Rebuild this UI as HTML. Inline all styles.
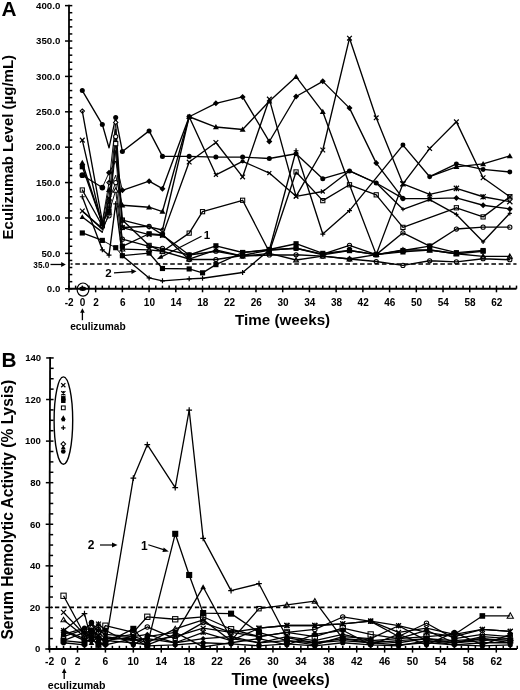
<!DOCTYPE html>
<html><head><meta charset="utf-8"><style>
html,body{margin:0;padding:0;background:#fff;}
svg{display:block;filter:grayscale(1) blur(0.3px);}
text{font-family:"Liberation Sans",sans-serif;font-weight:bold;fill:#000;}
</style></head><body>
<svg width="520" height="690" viewBox="0 0 520 690">
<rect width="520" height="690" fill="#fff"/>
<line x1="69.0" y1="4.73" x2="69.0" y2="289.65" stroke="#000" stroke-width="1.8"/>
<line x1="68.1" y1="288.75" x2="516.5" y2="288.75" stroke="#000" stroke-width="1.8"/>
<line x1="65" y1="288.75" x2="72.3" y2="288.75" stroke="#000" stroke-width="1.5"/>
<line x1="69.0" y1="281.67" x2="72.3" y2="281.67" stroke="#000" stroke-width="1.5"/>
<line x1="69.0" y1="274.59" x2="72.3" y2="274.59" stroke="#000" stroke-width="1.5"/>
<line x1="69.0" y1="267.52" x2="72.3" y2="267.52" stroke="#000" stroke-width="1.5"/>
<line x1="69.0" y1="260.44" x2="72.3" y2="260.44" stroke="#000" stroke-width="1.5"/>
<line x1="65" y1="253.36" x2="72.3" y2="253.36" stroke="#000" stroke-width="1.5"/>
<line x1="69.0" y1="246.28" x2="72.3" y2="246.28" stroke="#000" stroke-width="1.5"/>
<line x1="69.0" y1="239.2" x2="72.3" y2="239.2" stroke="#000" stroke-width="1.5"/>
<line x1="69.0" y1="232.13" x2="72.3" y2="232.13" stroke="#000" stroke-width="1.5"/>
<line x1="69.0" y1="225.05" x2="72.3" y2="225.05" stroke="#000" stroke-width="1.5"/>
<line x1="65" y1="217.97" x2="72.3" y2="217.97" stroke="#000" stroke-width="1.5"/>
<line x1="69.0" y1="210.89" x2="72.3" y2="210.89" stroke="#000" stroke-width="1.5"/>
<line x1="69.0" y1="203.81" x2="72.3" y2="203.81" stroke="#000" stroke-width="1.5"/>
<line x1="69.0" y1="196.74" x2="72.3" y2="196.74" stroke="#000" stroke-width="1.5"/>
<line x1="69.0" y1="189.66" x2="72.3" y2="189.66" stroke="#000" stroke-width="1.5"/>
<line x1="65" y1="182.58" x2="72.3" y2="182.58" stroke="#000" stroke-width="1.5"/>
<line x1="69.0" y1="175.5" x2="72.3" y2="175.5" stroke="#000" stroke-width="1.5"/>
<line x1="69.0" y1="168.42" x2="72.3" y2="168.42" stroke="#000" stroke-width="1.5"/>
<line x1="69.0" y1="161.35" x2="72.3" y2="161.35" stroke="#000" stroke-width="1.5"/>
<line x1="69.0" y1="154.27" x2="72.3" y2="154.27" stroke="#000" stroke-width="1.5"/>
<line x1="65" y1="147.19" x2="72.3" y2="147.19" stroke="#000" stroke-width="1.5"/>
<line x1="69.0" y1="140.11" x2="72.3" y2="140.11" stroke="#000" stroke-width="1.5"/>
<line x1="69.0" y1="133.03" x2="72.3" y2="133.03" stroke="#000" stroke-width="1.5"/>
<line x1="69.0" y1="125.96" x2="72.3" y2="125.96" stroke="#000" stroke-width="1.5"/>
<line x1="69.0" y1="118.88" x2="72.3" y2="118.88" stroke="#000" stroke-width="1.5"/>
<line x1="65" y1="111.8" x2="72.3" y2="111.8" stroke="#000" stroke-width="1.5"/>
<line x1="69.0" y1="104.72" x2="72.3" y2="104.72" stroke="#000" stroke-width="1.5"/>
<line x1="69.0" y1="97.64" x2="72.3" y2="97.64" stroke="#000" stroke-width="1.5"/>
<line x1="69.0" y1="90.57" x2="72.3" y2="90.57" stroke="#000" stroke-width="1.5"/>
<line x1="69.0" y1="83.49" x2="72.3" y2="83.49" stroke="#000" stroke-width="1.5"/>
<line x1="65" y1="76.41" x2="72.3" y2="76.41" stroke="#000" stroke-width="1.5"/>
<line x1="69.0" y1="69.33" x2="72.3" y2="69.33" stroke="#000" stroke-width="1.5"/>
<line x1="69.0" y1="62.25" x2="72.3" y2="62.25" stroke="#000" stroke-width="1.5"/>
<line x1="69.0" y1="55.18" x2="72.3" y2="55.18" stroke="#000" stroke-width="1.5"/>
<line x1="69.0" y1="48.1" x2="72.3" y2="48.1" stroke="#000" stroke-width="1.5"/>
<line x1="65" y1="41.02" x2="72.3" y2="41.02" stroke="#000" stroke-width="1.5"/>
<line x1="69.0" y1="33.94" x2="72.3" y2="33.94" stroke="#000" stroke-width="1.5"/>
<line x1="69.0" y1="26.86" x2="72.3" y2="26.86" stroke="#000" stroke-width="1.5"/>
<line x1="69.0" y1="19.79" x2="72.3" y2="19.79" stroke="#000" stroke-width="1.5"/>
<line x1="69.0" y1="12.71" x2="72.3" y2="12.71" stroke="#000" stroke-width="1.5"/>
<line x1="65" y1="5.63" x2="72.3" y2="5.63" stroke="#000" stroke-width="1.5"/>
<line x1="68.94" y1="285.6" x2="68.94" y2="292.3" stroke="#000" stroke-width="1.5"/>
<line x1="75.62" y1="285.6" x2="75.62" y2="288.75" stroke="#000" stroke-width="1.5"/>
<line x1="82.3" y1="285.6" x2="82.3" y2="288.75" stroke="#000" stroke-width="1.5"/>
<line x1="88.98" y1="285.6" x2="88.98" y2="288.75" stroke="#000" stroke-width="1.5"/>
<line x1="95.66" y1="285.6" x2="95.66" y2="292.3" stroke="#000" stroke-width="1.5"/>
<line x1="102.34" y1="285.6" x2="102.34" y2="288.75" stroke="#000" stroke-width="1.5"/>
<line x1="109.02" y1="285.6" x2="109.02" y2="288.75" stroke="#000" stroke-width="1.5"/>
<line x1="115.7" y1="285.6" x2="115.7" y2="288.75" stroke="#000" stroke-width="1.5"/>
<line x1="122.38" y1="285.6" x2="122.38" y2="292.3" stroke="#000" stroke-width="1.5"/>
<line x1="129.06" y1="285.6" x2="129.06" y2="288.75" stroke="#000" stroke-width="1.5"/>
<line x1="135.74" y1="285.6" x2="135.74" y2="288.75" stroke="#000" stroke-width="1.5"/>
<line x1="142.42" y1="285.6" x2="142.42" y2="288.75" stroke="#000" stroke-width="1.5"/>
<line x1="149.1" y1="285.6" x2="149.1" y2="292.3" stroke="#000" stroke-width="1.5"/>
<line x1="155.78" y1="285.6" x2="155.78" y2="288.75" stroke="#000" stroke-width="1.5"/>
<line x1="162.46" y1="285.6" x2="162.46" y2="288.75" stroke="#000" stroke-width="1.5"/>
<line x1="169.14" y1="285.6" x2="169.14" y2="288.75" stroke="#000" stroke-width="1.5"/>
<line x1="175.82" y1="285.6" x2="175.82" y2="292.3" stroke="#000" stroke-width="1.5"/>
<line x1="182.5" y1="285.6" x2="182.5" y2="288.75" stroke="#000" stroke-width="1.5"/>
<line x1="189.18" y1="285.6" x2="189.18" y2="288.75" stroke="#000" stroke-width="1.5"/>
<line x1="195.86" y1="285.6" x2="195.86" y2="288.75" stroke="#000" stroke-width="1.5"/>
<line x1="202.54" y1="285.6" x2="202.54" y2="292.3" stroke="#000" stroke-width="1.5"/>
<line x1="209.22" y1="285.6" x2="209.22" y2="288.75" stroke="#000" stroke-width="1.5"/>
<line x1="215.9" y1="285.6" x2="215.9" y2="288.75" stroke="#000" stroke-width="1.5"/>
<line x1="222.58" y1="285.6" x2="222.58" y2="288.75" stroke="#000" stroke-width="1.5"/>
<line x1="229.26" y1="285.6" x2="229.26" y2="292.3" stroke="#000" stroke-width="1.5"/>
<line x1="235.94" y1="285.6" x2="235.94" y2="288.75" stroke="#000" stroke-width="1.5"/>
<line x1="242.62" y1="285.6" x2="242.62" y2="288.75" stroke="#000" stroke-width="1.5"/>
<line x1="249.3" y1="285.6" x2="249.3" y2="288.75" stroke="#000" stroke-width="1.5"/>
<line x1="255.98" y1="285.6" x2="255.98" y2="292.3" stroke="#000" stroke-width="1.5"/>
<line x1="262.66" y1="285.6" x2="262.66" y2="288.75" stroke="#000" stroke-width="1.5"/>
<line x1="269.34" y1="285.6" x2="269.34" y2="288.75" stroke="#000" stroke-width="1.5"/>
<line x1="276.02" y1="285.6" x2="276.02" y2="288.75" stroke="#000" stroke-width="1.5"/>
<line x1="282.7" y1="285.6" x2="282.7" y2="292.3" stroke="#000" stroke-width="1.5"/>
<line x1="289.38" y1="285.6" x2="289.38" y2="288.75" stroke="#000" stroke-width="1.5"/>
<line x1="296.06" y1="285.6" x2="296.06" y2="288.75" stroke="#000" stroke-width="1.5"/>
<line x1="302.74" y1="285.6" x2="302.74" y2="288.75" stroke="#000" stroke-width="1.5"/>
<line x1="309.42" y1="285.6" x2="309.42" y2="292.3" stroke="#000" stroke-width="1.5"/>
<line x1="316.1" y1="285.6" x2="316.1" y2="288.75" stroke="#000" stroke-width="1.5"/>
<line x1="322.78" y1="285.6" x2="322.78" y2="288.75" stroke="#000" stroke-width="1.5"/>
<line x1="329.46" y1="285.6" x2="329.46" y2="288.75" stroke="#000" stroke-width="1.5"/>
<line x1="336.14" y1="285.6" x2="336.14" y2="292.3" stroke="#000" stroke-width="1.5"/>
<line x1="342.82" y1="285.6" x2="342.82" y2="288.75" stroke="#000" stroke-width="1.5"/>
<line x1="349.5" y1="285.6" x2="349.5" y2="288.75" stroke="#000" stroke-width="1.5"/>
<line x1="356.18" y1="285.6" x2="356.18" y2="288.75" stroke="#000" stroke-width="1.5"/>
<line x1="362.86" y1="285.6" x2="362.86" y2="292.3" stroke="#000" stroke-width="1.5"/>
<line x1="369.54" y1="285.6" x2="369.54" y2="288.75" stroke="#000" stroke-width="1.5"/>
<line x1="376.22" y1="285.6" x2="376.22" y2="288.75" stroke="#000" stroke-width="1.5"/>
<line x1="382.9" y1="285.6" x2="382.9" y2="288.75" stroke="#000" stroke-width="1.5"/>
<line x1="389.58" y1="285.6" x2="389.58" y2="292.3" stroke="#000" stroke-width="1.5"/>
<line x1="396.26" y1="285.6" x2="396.26" y2="288.75" stroke="#000" stroke-width="1.5"/>
<line x1="402.94" y1="285.6" x2="402.94" y2="288.75" stroke="#000" stroke-width="1.5"/>
<line x1="409.62" y1="285.6" x2="409.62" y2="288.75" stroke="#000" stroke-width="1.5"/>
<line x1="416.3" y1="285.6" x2="416.3" y2="292.3" stroke="#000" stroke-width="1.5"/>
<line x1="422.98" y1="285.6" x2="422.98" y2="288.75" stroke="#000" stroke-width="1.5"/>
<line x1="429.66" y1="285.6" x2="429.66" y2="288.75" stroke="#000" stroke-width="1.5"/>
<line x1="436.34" y1="285.6" x2="436.34" y2="288.75" stroke="#000" stroke-width="1.5"/>
<line x1="443.02" y1="285.6" x2="443.02" y2="292.3" stroke="#000" stroke-width="1.5"/>
<line x1="449.7" y1="285.6" x2="449.7" y2="288.75" stroke="#000" stroke-width="1.5"/>
<line x1="456.38" y1="285.6" x2="456.38" y2="288.75" stroke="#000" stroke-width="1.5"/>
<line x1="463.06" y1="285.6" x2="463.06" y2="288.75" stroke="#000" stroke-width="1.5"/>
<line x1="469.74" y1="285.6" x2="469.74" y2="292.3" stroke="#000" stroke-width="1.5"/>
<line x1="476.42" y1="285.6" x2="476.42" y2="288.75" stroke="#000" stroke-width="1.5"/>
<line x1="483.1" y1="285.6" x2="483.1" y2="288.75" stroke="#000" stroke-width="1.5"/>
<line x1="489.78" y1="285.6" x2="489.78" y2="288.75" stroke="#000" stroke-width="1.5"/>
<line x1="496.46" y1="285.6" x2="496.46" y2="292.3" stroke="#000" stroke-width="1.5"/>
<line x1="503.14" y1="285.6" x2="503.14" y2="288.75" stroke="#000" stroke-width="1.5"/>
<line x1="509.82" y1="285.6" x2="509.82" y2="288.75" stroke="#000" stroke-width="1.5"/>
<line x1="516.5" y1="285.6" x2="516.5" y2="288.75" stroke="#000" stroke-width="1.5"/>
<text x="60.3" y="292.05" font-size="9.7" text-anchor="end" >0.0</text>
<text x="60.3" y="256.66" font-size="9.7" text-anchor="end" >50.0</text>
<text x="60.3" y="221.27" font-size="9.7" text-anchor="end" >100.0</text>
<text x="60.3" y="185.88" font-size="9.7" text-anchor="end" >150.0</text>
<text x="60.3" y="150.49" font-size="9.7" text-anchor="end" >200.0</text>
<text x="60.3" y="115.1" font-size="9.7" text-anchor="end" >250.0</text>
<text x="60.3" y="79.71" font-size="9.7" text-anchor="end" >300.0</text>
<text x="60.3" y="44.32" font-size="9.7" text-anchor="end" >350.0</text>
<text x="60.3" y="8.93" font-size="9.7" text-anchor="end" >400.0</text>
<text x="69.24" y="306.4" font-size="10" text-anchor="middle" >-2</text>
<text x="82.6" y="306.4" font-size="10" text-anchor="middle" >0</text>
<text x="95.96" y="306.4" font-size="10" text-anchor="middle" >2</text>
<text x="122.68" y="306.4" font-size="10" text-anchor="middle" >6</text>
<text x="149.4" y="306.4" font-size="10" text-anchor="middle" >10</text>
<text x="176.12" y="306.4" font-size="10" text-anchor="middle" >14</text>
<text x="202.84" y="306.4" font-size="10" text-anchor="middle" >18</text>
<text x="229.56" y="306.4" font-size="10" text-anchor="middle" >22</text>
<text x="256.28" y="306.4" font-size="10" text-anchor="middle" >26</text>
<text x="283" y="306.4" font-size="10" text-anchor="middle" >30</text>
<text x="309.72" y="306.4" font-size="10" text-anchor="middle" >34</text>
<text x="336.44" y="306.4" font-size="10" text-anchor="middle" >38</text>
<text x="363.16" y="306.4" font-size="10" text-anchor="middle" >42</text>
<text x="389.88" y="306.4" font-size="10" text-anchor="middle" >46</text>
<text x="416.6" y="306.4" font-size="10" text-anchor="middle" >50</text>
<text x="443.32" y="306.4" font-size="10" text-anchor="middle" >54</text>
<text x="470.04" y="306.4" font-size="10" text-anchor="middle" >58</text>
<text x="496.76" y="306.4" font-size="10" text-anchor="middle" >62</text>
<line x1="70.6" y1="263.98" x2="516.5" y2="263.98" stroke="#000" stroke-width="1.6" stroke-dasharray="4.6 2.7" stroke-dashoffset="2.6"/>
<text x="49.3" y="268.18" font-size="8.2" text-anchor="end" >35.0</text>
<line x1="50.5" y1="264.48" x2="62" y2="264.48" stroke="#000" stroke-width="1.3"/>
<path d="M65.8 264.48 L61.2 261.98 L61.2 266.98Z" fill="#000"/>
<line x1="82.4" y1="312" x2="82.4" y2="320.2" stroke="#000" stroke-width="1.3"/>
<path d="M82.4 308.2 L80.1 312.8 L84.7 312.8Z" fill="#000"/>
<text x="97.9" y="329.5" font-size="10.2" text-anchor="middle" >eculizumab</text>
<text x="1.6" y="15.9" font-size="20.8" text-anchor="start" >A</text>
<text x="282.6" y="325" font-size="15.2" text-anchor="middle" >Time (weeks)</text>
<text x="0" y="0" font-size="15" text-anchor="middle" transform="translate(13.2 147.2) rotate(-90)">Eculizumab Level (µg/mL)</text>
<ellipse cx="83" cy="289.6" rx="5.9" ry="6.6" fill="none" stroke="#000" stroke-width="1.2"/>
<ellipse cx="82.7" cy="288.8" rx="3.4" ry="2.2" fill="#000"/>
<line x1="50.1" y1="357.04" x2="49.2" y2="649.9" stroke="#000" stroke-width="1.8"/>
<line x1="48.3" y1="649.0" x2="517" y2="649.0" stroke="#000" stroke-width="1.8"/>
<line x1="45.3" y1="649" x2="52.8" y2="649" stroke="#000" stroke-width="1.5"/>
<line x1="49.23" y1="638.61" x2="52.83" y2="638.61" stroke="#000" stroke-width="1.5"/>
<line x1="49.26" y1="628.21" x2="52.86" y2="628.21" stroke="#000" stroke-width="1.5"/>
<line x1="49.3" y1="617.82" x2="52.9" y2="617.82" stroke="#000" stroke-width="1.5"/>
<line x1="45.43" y1="607.42" x2="52.93" y2="607.42" stroke="#000" stroke-width="1.5"/>
<line x1="49.36" y1="597.02" x2="52.96" y2="597.02" stroke="#000" stroke-width="1.5"/>
<line x1="49.39" y1="586.63" x2="52.99" y2="586.63" stroke="#000" stroke-width="1.5"/>
<line x1="49.43" y1="576.24" x2="53.03" y2="576.24" stroke="#000" stroke-width="1.5"/>
<line x1="45.56" y1="565.84" x2="53.06" y2="565.84" stroke="#000" stroke-width="1.5"/>
<line x1="49.49" y1="555.44" x2="53.09" y2="555.44" stroke="#000" stroke-width="1.5"/>
<line x1="49.52" y1="545.05" x2="53.12" y2="545.05" stroke="#000" stroke-width="1.5"/>
<line x1="49.55" y1="534.65" x2="53.15" y2="534.65" stroke="#000" stroke-width="1.5"/>
<line x1="45.69" y1="524.26" x2="53.19" y2="524.26" stroke="#000" stroke-width="1.5"/>
<line x1="49.62" y1="513.87" x2="53.22" y2="513.87" stroke="#000" stroke-width="1.5"/>
<line x1="49.65" y1="503.47" x2="53.25" y2="503.47" stroke="#000" stroke-width="1.5"/>
<line x1="49.68" y1="493.07" x2="53.28" y2="493.07" stroke="#000" stroke-width="1.5"/>
<line x1="45.81" y1="482.68" x2="53.31" y2="482.68" stroke="#000" stroke-width="1.5"/>
<line x1="49.75" y1="472.28" x2="53.35" y2="472.28" stroke="#000" stroke-width="1.5"/>
<line x1="49.78" y1="461.89" x2="53.38" y2="461.89" stroke="#000" stroke-width="1.5"/>
<line x1="49.81" y1="451.5" x2="53.41" y2="451.5" stroke="#000" stroke-width="1.5"/>
<line x1="45.94" y1="441.1" x2="53.44" y2="441.1" stroke="#000" stroke-width="1.5"/>
<line x1="49.88" y1="430.7" x2="53.48" y2="430.7" stroke="#000" stroke-width="1.5"/>
<line x1="49.91" y1="420.31" x2="53.51" y2="420.31" stroke="#000" stroke-width="1.5"/>
<line x1="49.94" y1="409.91" x2="53.54" y2="409.91" stroke="#000" stroke-width="1.5"/>
<line x1="46.07" y1="399.52" x2="53.57" y2="399.52" stroke="#000" stroke-width="1.5"/>
<line x1="50" y1="389.12" x2="53.6" y2="389.12" stroke="#000" stroke-width="1.5"/>
<line x1="50.04" y1="378.73" x2="53.64" y2="378.73" stroke="#000" stroke-width="1.5"/>
<line x1="50.07" y1="368.33" x2="53.67" y2="368.33" stroke="#000" stroke-width="1.5"/>
<line x1="46.2" y1="357.94" x2="53.7" y2="357.94" stroke="#000" stroke-width="1.5"/>
<line x1="49.58" y1="645.8" x2="49.58" y2="652.6" stroke="#000" stroke-width="1.5"/>
<line x1="56.56" y1="645.8" x2="56.56" y2="649.0" stroke="#000" stroke-width="1.5"/>
<line x1="63.54" y1="645.8" x2="63.54" y2="649.0" stroke="#000" stroke-width="1.5"/>
<line x1="70.52" y1="645.8" x2="70.52" y2="649.0" stroke="#000" stroke-width="1.5"/>
<line x1="77.5" y1="645.8" x2="77.5" y2="652.6" stroke="#000" stroke-width="1.5"/>
<line x1="84.48" y1="645.8" x2="84.48" y2="649.0" stroke="#000" stroke-width="1.5"/>
<line x1="91.46" y1="645.8" x2="91.46" y2="649.0" stroke="#000" stroke-width="1.5"/>
<line x1="98.44" y1="645.8" x2="98.44" y2="649.0" stroke="#000" stroke-width="1.5"/>
<line x1="105.42" y1="645.8" x2="105.42" y2="652.6" stroke="#000" stroke-width="1.5"/>
<line x1="112.4" y1="645.8" x2="112.4" y2="649.0" stroke="#000" stroke-width="1.5"/>
<line x1="119.38" y1="645.8" x2="119.38" y2="649.0" stroke="#000" stroke-width="1.5"/>
<line x1="126.36" y1="645.8" x2="126.36" y2="649.0" stroke="#000" stroke-width="1.5"/>
<line x1="133.34" y1="645.8" x2="133.34" y2="652.6" stroke="#000" stroke-width="1.5"/>
<line x1="140.32" y1="645.8" x2="140.32" y2="649.0" stroke="#000" stroke-width="1.5"/>
<line x1="147.3" y1="645.8" x2="147.3" y2="649.0" stroke="#000" stroke-width="1.5"/>
<line x1="154.28" y1="645.8" x2="154.28" y2="649.0" stroke="#000" stroke-width="1.5"/>
<line x1="161.26" y1="645.8" x2="161.26" y2="652.6" stroke="#000" stroke-width="1.5"/>
<line x1="168.24" y1="645.8" x2="168.24" y2="649.0" stroke="#000" stroke-width="1.5"/>
<line x1="175.22" y1="645.8" x2="175.22" y2="649.0" stroke="#000" stroke-width="1.5"/>
<line x1="182.2" y1="645.8" x2="182.2" y2="649.0" stroke="#000" stroke-width="1.5"/>
<line x1="189.18" y1="645.8" x2="189.18" y2="652.6" stroke="#000" stroke-width="1.5"/>
<line x1="196.16" y1="645.8" x2="196.16" y2="649.0" stroke="#000" stroke-width="1.5"/>
<line x1="203.14" y1="645.8" x2="203.14" y2="649.0" stroke="#000" stroke-width="1.5"/>
<line x1="210.12" y1="645.8" x2="210.12" y2="649.0" stroke="#000" stroke-width="1.5"/>
<line x1="217.1" y1="645.8" x2="217.1" y2="652.6" stroke="#000" stroke-width="1.5"/>
<line x1="224.08" y1="645.8" x2="224.08" y2="649.0" stroke="#000" stroke-width="1.5"/>
<line x1="231.06" y1="645.8" x2="231.06" y2="649.0" stroke="#000" stroke-width="1.5"/>
<line x1="238.04" y1="645.8" x2="238.04" y2="649.0" stroke="#000" stroke-width="1.5"/>
<line x1="245.02" y1="645.8" x2="245.02" y2="652.6" stroke="#000" stroke-width="1.5"/>
<line x1="252" y1="645.8" x2="252" y2="649.0" stroke="#000" stroke-width="1.5"/>
<line x1="258.98" y1="645.8" x2="258.98" y2="649.0" stroke="#000" stroke-width="1.5"/>
<line x1="265.96" y1="645.8" x2="265.96" y2="649.0" stroke="#000" stroke-width="1.5"/>
<line x1="272.94" y1="645.8" x2="272.94" y2="652.6" stroke="#000" stroke-width="1.5"/>
<line x1="279.92" y1="645.8" x2="279.92" y2="649.0" stroke="#000" stroke-width="1.5"/>
<line x1="286.9" y1="645.8" x2="286.9" y2="649.0" stroke="#000" stroke-width="1.5"/>
<line x1="293.88" y1="645.8" x2="293.88" y2="649.0" stroke="#000" stroke-width="1.5"/>
<line x1="300.86" y1="645.8" x2="300.86" y2="652.6" stroke="#000" stroke-width="1.5"/>
<line x1="307.84" y1="645.8" x2="307.84" y2="649.0" stroke="#000" stroke-width="1.5"/>
<line x1="314.82" y1="645.8" x2="314.82" y2="649.0" stroke="#000" stroke-width="1.5"/>
<line x1="321.8" y1="645.8" x2="321.8" y2="649.0" stroke="#000" stroke-width="1.5"/>
<line x1="328.78" y1="645.8" x2="328.78" y2="652.6" stroke="#000" stroke-width="1.5"/>
<line x1="335.76" y1="645.8" x2="335.76" y2="649.0" stroke="#000" stroke-width="1.5"/>
<line x1="342.74" y1="645.8" x2="342.74" y2="649.0" stroke="#000" stroke-width="1.5"/>
<line x1="349.72" y1="645.8" x2="349.72" y2="649.0" stroke="#000" stroke-width="1.5"/>
<line x1="356.7" y1="645.8" x2="356.7" y2="652.6" stroke="#000" stroke-width="1.5"/>
<line x1="363.68" y1="645.8" x2="363.68" y2="649.0" stroke="#000" stroke-width="1.5"/>
<line x1="370.66" y1="645.8" x2="370.66" y2="649.0" stroke="#000" stroke-width="1.5"/>
<line x1="377.64" y1="645.8" x2="377.64" y2="649.0" stroke="#000" stroke-width="1.5"/>
<line x1="384.62" y1="645.8" x2="384.62" y2="652.6" stroke="#000" stroke-width="1.5"/>
<line x1="391.6" y1="645.8" x2="391.6" y2="649.0" stroke="#000" stroke-width="1.5"/>
<line x1="398.58" y1="645.8" x2="398.58" y2="649.0" stroke="#000" stroke-width="1.5"/>
<line x1="405.56" y1="645.8" x2="405.56" y2="649.0" stroke="#000" stroke-width="1.5"/>
<line x1="412.54" y1="645.8" x2="412.54" y2="652.6" stroke="#000" stroke-width="1.5"/>
<line x1="419.52" y1="645.8" x2="419.52" y2="649.0" stroke="#000" stroke-width="1.5"/>
<line x1="426.5" y1="645.8" x2="426.5" y2="649.0" stroke="#000" stroke-width="1.5"/>
<line x1="433.48" y1="645.8" x2="433.48" y2="649.0" stroke="#000" stroke-width="1.5"/>
<line x1="440.46" y1="645.8" x2="440.46" y2="652.6" stroke="#000" stroke-width="1.5"/>
<line x1="447.44" y1="645.8" x2="447.44" y2="649.0" stroke="#000" stroke-width="1.5"/>
<line x1="454.42" y1="645.8" x2="454.42" y2="649.0" stroke="#000" stroke-width="1.5"/>
<line x1="461.4" y1="645.8" x2="461.4" y2="649.0" stroke="#000" stroke-width="1.5"/>
<line x1="468.38" y1="645.8" x2="468.38" y2="652.6" stroke="#000" stroke-width="1.5"/>
<line x1="475.36" y1="645.8" x2="475.36" y2="649.0" stroke="#000" stroke-width="1.5"/>
<line x1="482.34" y1="645.8" x2="482.34" y2="649.0" stroke="#000" stroke-width="1.5"/>
<line x1="489.32" y1="645.8" x2="489.32" y2="649.0" stroke="#000" stroke-width="1.5"/>
<line x1="496.3" y1="645.8" x2="496.3" y2="652.6" stroke="#000" stroke-width="1.5"/>
<line x1="503.28" y1="645.8" x2="503.28" y2="649.0" stroke="#000" stroke-width="1.5"/>
<line x1="510.26" y1="645.8" x2="510.26" y2="649.0" stroke="#000" stroke-width="1.5"/>
<line x1="517.24" y1="645.8" x2="517.24" y2="649.0" stroke="#000" stroke-width="1.5"/>
<text x="40.3" y="652.35" font-size="9.6" text-anchor="end" >0</text>
<text x="40.43" y="610.77" font-size="9.6" text-anchor="end" >20</text>
<text x="40.56" y="569.19" font-size="9.6" text-anchor="end" >40</text>
<text x="40.69" y="527.61" font-size="9.6" text-anchor="end" >60</text>
<text x="40.81" y="486.03" font-size="9.6" text-anchor="end" >80</text>
<text x="40.94" y="444.45" font-size="9.6" text-anchor="end" >100</text>
<text x="41.07" y="402.87" font-size="9.6" text-anchor="end" >120</text>
<text x="41.2" y="361.29" font-size="9.6" text-anchor="end" >140</text>
<text x="49.58" y="665.4" font-size="10.3" text-anchor="middle" >-2</text>
<text x="63.54" y="665.4" font-size="10.3" text-anchor="middle" >0</text>
<text x="77.5" y="665.4" font-size="10.3" text-anchor="middle" >2</text>
<text x="105.42" y="665.4" font-size="10.3" text-anchor="middle" >6</text>
<text x="133.34" y="665.4" font-size="10.3" text-anchor="middle" >10</text>
<text x="161.26" y="665.4" font-size="10.3" text-anchor="middle" >14</text>
<text x="189.18" y="665.4" font-size="10.3" text-anchor="middle" >18</text>
<text x="217.1" y="665.4" font-size="10.3" text-anchor="middle" >22</text>
<text x="245.02" y="665.4" font-size="10.3" text-anchor="middle" >26</text>
<text x="272.94" y="665.4" font-size="10.3" text-anchor="middle" >30</text>
<text x="300.86" y="665.4" font-size="10.3" text-anchor="middle" >34</text>
<text x="328.78" y="665.4" font-size="10.3" text-anchor="middle" >38</text>
<text x="356.7" y="665.4" font-size="10.3" text-anchor="middle" >42</text>
<text x="384.62" y="665.4" font-size="10.3" text-anchor="middle" >46</text>
<text x="412.54" y="665.4" font-size="10.3" text-anchor="middle" >50</text>
<text x="440.46" y="665.4" font-size="10.3" text-anchor="middle" >54</text>
<text x="468.38" y="665.4" font-size="10.3" text-anchor="middle" >58</text>
<text x="496.3" y="665.4" font-size="10.3" text-anchor="middle" >62</text>
<line x1="51" y1="607.42" x2="501.5" y2="607.42" stroke="#000" stroke-width="1.6" stroke-dasharray="4.4 2.967" stroke-dashoffset="3.47"/>
<line x1="64.2" y1="672" x2="64.2" y2="679" stroke="#000" stroke-width="1.3"/>
<path d="M64.2 668.3 L61.9 672.9 L66.5 672.9Z" fill="#000"/>
<text x="76.6" y="688.6" font-size="10.6" text-anchor="middle" >eculizumab</text>
<text x="1.4" y="367.2" font-size="20.8" text-anchor="start" >B</text>
<text x="280.6" y="684.6" font-size="15.7" text-anchor="middle" >Time (weeks)</text>
<text x="0" y="0" font-size="15.6" text-anchor="middle" transform="translate(13.0 509.7) rotate(-90)">Serum Hemolytic Activity (% Lysis)</text>
<ellipse cx="63.4" cy="420.6" rx="9.3" ry="43.7" fill="none" stroke="#000" stroke-width="1.4"/>
<path d="M429.66 176.71L456.38 166.87M456.38 166.87L483.1 163.89M483.1 163.89L509.82 155.9" fill="none" stroke="#000" stroke-width="1.35" stroke-linecap="round"/>
<path d="M82.3 90.57 L102.34 124.54 L109.02 147.9 L115.7 117.46 L122.38 151.44 L149.1 130.91 L162.46 156.39 L189.18 156.39 L215.9 157.1 L242.62 157.1 L269.34 158.51 L296.06 153.77 L322.78 178.69 L349.5 170.97 L376.22 183 L402.94 198.43" fill="none" stroke="#000" stroke-width="1.35" stroke-linejoin="round"/>
<path d="M82.3 175.22L102.34 187.53M122.38 190.37L149.1 181.16M149.1 181.16L162.46 188.67M162.46 188.67L189.18 116.75M189.18 116.75L215.9 103.31M215.9 103.31L242.62 96.94M242.62 96.94L269.34 141.53M269.34 141.53L296.06 96.51M296.06 96.51L322.78 81.36M322.78 81.36L349.5 108.12M349.5 108.12L376.22 163.12M376.22 163.12L402.94 198.43M402.94 198.43L429.66 198.58M429.66 198.58L456.38 197.94M456.38 197.94L483.1 205.23M483.1 205.23L509.82 208.91" fill="none" stroke="#000" stroke-width="1.35" stroke-linecap="round"/>
<path d="M102.34 187.53L109.02 172.67M109.02 172.67L115.7 161.35M115.7 161.35L122.38 190.37" fill="none" stroke="#000" stroke-width="0.95" stroke-linecap="round"/>
<path d="M82.3 111.09L102.34 221.51M122.38 220.09L149.1 226.89M149.1 226.89L162.46 230M162.46 230L189.18 116.75M189.18 116.75L215.9 174.79M215.9 174.79L242.62 161.35M242.62 161.35L269.34 173.02M269.34 173.02L296.06 196.31M296.06 196.31L322.78 191.5M322.78 191.5L349.5 170.97M349.5 170.97L376.22 183M376.22 183L402.94 209.26M402.94 209.26L429.66 199.57M429.66 199.57L456.38 214.43M456.38 214.43L483.1 241.82M483.1 241.82L509.82 213.3" fill="none" stroke="#000" stroke-width="1.35" stroke-linecap="round"/>
<path d="M102.34 221.51L109.02 182.58M109.02 182.58L115.7 122.42M115.7 122.42L122.38 220.09" fill="none" stroke="#000" stroke-width="0.95" stroke-linecap="round"/>
<path d="M82.3 162.76L102.34 223.63M122.38 205.23L149.1 207.21M149.1 207.21L162.46 211.53M162.46 211.53L189.18 116.75M189.18 116.75L215.9 127.02M215.9 127.02L242.62 129.5M242.62 129.5L269.34 101.18M269.34 101.18L296.06 76.69M296.06 76.69L322.78 111.8M322.78 111.8L349.5 184.7M349.5 184.7L376.22 254.63M376.22 254.63L402.94 183.85M402.94 183.85L429.66 194.33M429.66 194.33L456.38 188.38M456.38 188.38L483.1 196.74M483.1 196.74L509.82 201.69" fill="none" stroke="#000" stroke-width="1.35" stroke-linecap="round"/>
<path d="M102.34 223.63L109.02 189.66M109.02 189.66L115.7 175.5M115.7 175.5L122.38 205.23" fill="none" stroke="#000" stroke-width="0.95" stroke-linecap="round"/>
<path d="M82.3 140.11L102.34 226.46M122.38 227.53L149.1 234.6M149.1 234.6L162.46 235.38M162.46 235.38L189.18 162.05M189.18 162.05L215.9 142.52M215.9 142.52L242.62 176.92M242.62 176.92L269.34 99.06M269.34 99.06L296.06 196.31M296.06 196.31L322.78 150.02M322.78 150.02L349.5 38.19M349.5 38.19L376.22 117.82M376.22 117.82L402.94 183.85M402.94 183.85L429.66 148.61M429.66 148.61L456.38 121.85M456.38 121.85L483.1 177.77M483.1 177.77L509.82 196.74" fill="none" stroke="#000" stroke-width="1.35" stroke-linecap="round"/>
<path d="M102.34 226.46L109.02 198.15M109.02 198.15L115.7 129.5M115.7 129.5L122.38 227.53" fill="none" stroke="#000" stroke-width="0.95" stroke-linecap="round"/>
<path d="M82.3 196.74 L102.34 249.82 L109.02 255.2 L115.7 203.81 L122.38 255.7 L149.1 277.92 L162.46 280.82 L189.18 278.84 L202.54 278.27 L242.62 272.47 L269.34 249.96 L296.06 150.73 L322.78 234.04 L349.5 210.61 L402.94 145.07 L429.66 176.71 L456.38 163.89 L483.1 169.41 L509.82 171.96" fill="none" stroke="#000" stroke-width="1.35" stroke-linejoin="round"/>
<path d="M82.3 190.01L102.34 225.76M122.38 220.09L149.1 245.43M149.1 245.43L162.46 251.52M162.46 251.52L189.18 233.12M189.18 233.12L202.54 211.67M202.54 211.67L242.62 200.28M242.62 200.28L269.34 251.94M269.34 251.94L296.06 171.96M296.06 171.96L322.78 200.63M322.78 200.63L349.5 184.77M349.5 184.77L376.22 194.82M376.22 194.82L402.94 227.38M402.94 227.38L456.38 207.78M456.38 207.78L483.1 216.91M483.1 216.91L509.82 196.74" fill="none" stroke="#000" stroke-width="1.35" stroke-linecap="round"/>
<path d="M102.34 225.76L109.02 205.23M109.02 205.23L115.7 143.65M115.7 143.65L122.38 220.09" fill="none" stroke="#000" stroke-width="0.95" stroke-linecap="round"/>
<path d="M82.3 232.98L102.34 240.41M122.38 255.7L149.1 253.08M149.1 253.08L162.46 268.51M162.46 268.51L189.18 268.93M189.18 268.93L202.54 272.82M202.54 272.82L215.9 264.61M215.9 264.61L242.62 252.51M242.62 252.51L269.34 249.47M269.34 249.47L296.06 243.73M296.06 243.73L322.78 253.36M322.78 253.36L349.5 250.53M349.5 250.53L376.22 254.63M376.22 254.63L402.94 250.53M402.94 250.53L429.66 246.07M429.66 246.07L456.38 252.65M456.38 252.65L483.1 250.53" fill="none" stroke="#000" stroke-width="1.35" stroke-linecap="round"/>
<path d="M102.34 240.41L115.7 247.7M115.7 247.7L122.38 255.7" fill="none" stroke="#000" stroke-width="0.95" stroke-linecap="round"/>
<path d="M82.3 166.73L102.34 223.77M122.38 246.28L149.1 233.75M149.1 233.75L162.46 234.96M162.46 234.96L189.18 254.99M189.18 254.99L215.9 245.79M215.9 245.79L242.62 252.51M242.62 252.51L269.34 250.03M269.34 250.03L296.06 248.26M296.06 248.26L322.78 254.78M322.78 254.78L349.5 250.53M349.5 250.53L376.22 254.63M376.22 254.63L402.94 251.94M402.94 251.94L429.66 250.03M429.66 250.03L456.38 253.78M456.38 253.78L483.1 251.24" fill="none" stroke="#000" stroke-width="1.35" stroke-linecap="round"/>
<path d="M102.34 223.77L109.02 210.89M109.02 210.89L115.7 150.73M115.7 150.73L122.38 246.28" fill="none" stroke="#000" stroke-width="0.95" stroke-linecap="round"/>
<path d="M82.3 211.03L102.34 228.59M122.38 227.53L149.1 226.25M149.1 226.25L162.46 234.6M162.46 234.6L189.18 259.52M189.18 259.52L215.9 259.52M215.9 259.52L242.62 255.48M242.62 255.48L269.34 250.03M269.34 250.03L296.06 248.26M296.06 248.26L322.78 254.07M322.78 254.07L349.5 245.43M349.5 245.43L376.22 254.63M376.22 254.63L402.94 232.83M402.94 232.83L429.66 246.07M429.66 246.07L456.38 229.01M456.38 229.01L483.1 227.17M483.1 227.17L509.82 227.17" fill="none" stroke="#000" stroke-width="1.35" stroke-linecap="round"/>
<path d="M102.34 228.59L109.02 215.85M109.02 215.85L115.7 136.57M115.7 136.57L122.38 227.53" fill="none" stroke="#000" stroke-width="0.95" stroke-linecap="round"/>
<path d="M82.3 211.03L102.34 229.29M122.38 239.2L149.1 246.28M149.1 246.28L162.46 248.41M162.46 248.41L189.18 254.99M189.18 254.99L215.9 251.24M215.9 251.24L242.62 256.19M242.62 256.19L269.34 254.99M269.34 254.99L296.06 254.78M296.06 254.78L322.78 256.19M322.78 256.19L349.5 259.02M349.5 259.02L376.22 261.5M376.22 261.5L402.94 265.39M402.94 265.39L429.66 260.79M429.66 260.79L456.38 261.85M456.38 261.85L483.1 258.74M483.1 258.74L509.82 259.73" fill="none" stroke="#000" stroke-width="1.35" stroke-linecap="round"/>
<path d="M102.34 229.29L109.02 200.28M109.02 200.28L115.7 182.58M115.7 182.58L122.38 239.2" fill="none" stroke="#000" stroke-width="0.95" stroke-linecap="round"/>
<path d="M82.3 216.98L102.34 232.13M122.38 249.11L149.1 249.82M149.1 249.82L162.46 251.24M162.46 251.24L189.18 259.02M189.18 259.02L215.9 250.03M215.9 250.03L242.62 256.19M242.62 256.19L269.34 253.36M269.34 253.36L296.06 260.01M296.06 260.01L322.78 256.19M322.78 256.19L349.5 259.02M349.5 259.02L376.22 254.63M376.22 254.63L402.94 250.03M402.94 250.03L429.66 250.03M429.66 250.03L456.38 253.78M456.38 253.78L483.1 256.4M483.1 256.4L509.82 256.4" fill="none" stroke="#000" stroke-width="1.35" stroke-linecap="round"/>
<path d="M102.34 232.13L109.02 212.31M109.02 212.31L115.7 190.37M115.7 190.37L122.38 249.11" fill="none" stroke="#000" stroke-width="0.95" stroke-linecap="round"/>
<path d="M456.38 163.86L459.38 169.12L453.38 169.12Z" fill="#000"/>
<path d="M483.1 160.89L486.1 166.15L480.1 166.15Z" fill="#000"/>
<path d="M509.82 152.89L512.82 158.15L506.82 158.15Z" fill="#000"/>
<circle cx="82.3" cy="90.57" r="2.52" fill="#000"/>
<circle cx="102.34" cy="124.54" r="2.52" fill="#000"/>
<circle cx="115.7" cy="117.46" r="2.52" fill="#000"/>
<circle cx="122.38" cy="151.44" r="2.52" fill="#000"/>
<circle cx="149.1" cy="130.91" r="2.52" fill="#000"/>
<circle cx="162.46" cy="156.39" r="2.52" fill="#000"/>
<circle cx="189.18" cy="156.39" r="2.52" fill="#000"/>
<circle cx="215.9" cy="157.1" r="2.52" fill="#000"/>
<circle cx="242.62" cy="157.1" r="2.52" fill="#000"/>
<circle cx="269.34" cy="158.51" r="2.52" fill="#000"/>
<circle cx="296.06" cy="153.77" r="2.52" fill="#000"/>
<circle cx="322.78" cy="178.69" r="2.52" fill="#000"/>
<circle cx="349.5" cy="170.97" r="2.52" fill="#000"/>
<circle cx="376.22" cy="183" r="2.52" fill="#000"/>
<circle cx="402.94" cy="198.43" r="2.52" fill="#000"/>
<circle cx="82.3" cy="175.22" r="2.86" fill="#000"/>
<circle cx="102.34" cy="187.53" r="2.86" fill="#000"/>
<path d="M109.02 169.67L112.02 172.67L109.02 175.67L106.02 172.67Z" fill="#000"/>
<path d="M122.38 187.36L125.38 190.37L122.38 193.37L119.38 190.37Z" fill="#000"/>
<path d="M149.1 178.16L152.1 181.16L149.1 184.17L146.1 181.16Z" fill="#000"/>
<path d="M162.46 185.66L165.46 188.67L162.46 191.67L159.46 188.67Z" fill="#000"/>
<path d="M189.18 113.75L192.18 116.75L189.18 119.76L186.18 116.75Z" fill="#000"/>
<path d="M215.9 100.3L218.9 103.31L215.9 106.31L212.9 103.31Z" fill="#000"/>
<path d="M242.62 93.93L245.62 96.94L242.62 99.94L239.62 96.94Z" fill="#000"/>
<path d="M269.34 138.52L272.34 141.53L269.34 144.53L266.34 141.53Z" fill="#000"/>
<path d="M296.06 93.51L299.06 96.51L296.06 99.51L293.06 96.51Z" fill="#000"/>
<path d="M322.78 78.36L325.78 81.36L322.78 84.37L319.78 81.36Z" fill="#000"/>
<path d="M349.5 105.12L352.5 108.12L349.5 111.12L346.5 108.12Z" fill="#000"/>
<path d="M376.22 160.11L379.22 163.12L376.22 166.12L373.22 163.12Z" fill="#000"/>
<path d="M402.94 195.43L405.94 198.43L402.94 201.44L399.94 198.43Z" fill="#000"/>
<path d="M429.66 195.57L432.66 198.58L429.66 201.58L426.66 198.58Z" fill="#000"/>
<path d="M456.38 194.94L459.38 197.94L456.38 200.94L453.38 197.94Z" fill="#000"/>
<path d="M483.1 202.23L486.1 205.23L483.1 208.23L480.1 205.23Z" fill="#000"/>
<path d="M509.82 205.91L512.82 208.91L509.82 211.91L506.82 208.91Z" fill="#000"/>
<path d="M82.3 108.91L84.48 111.09L82.3 113.28L80.12 111.09Z" fill="none" stroke="#000" stroke-width="1.05"/>
<path d="M109.02 180.4L111.2 182.58L109.02 184.76L106.84 182.58Z" fill="none" stroke="#000" stroke-width="1.05"/>
<path d="M115.7 120.23L117.88 122.42L115.7 124.6L113.52 122.42Z" fill="#fff" stroke="#000" stroke-width="1.05"/>
<path d="M122.38 217.91L124.56 220.09L122.38 222.28L120.2 220.09Z" fill="none" stroke="#000" stroke-width="1.05"/>
<path d="M149.1 224.7L151.28 226.89L149.1 229.07L146.92 226.89Z" fill="none" stroke="#000" stroke-width="1.05"/>
<path d="M162.46 227.82L164.64 230L162.46 232.19L160.28 230Z" fill="none" stroke="#000" stroke-width="1.05"/>
<path d="M187.2 114.78L191.16 118.73M191.16 114.78L187.2 118.73" stroke="#000" stroke-width="1.2" fill="none"/>
<path d="M213.92 172.82L217.88 176.77M217.88 172.82L213.92 176.77" stroke="#000" stroke-width="1.2" fill="none"/>
<circle cx="242.62" cy="161.35" r="2.08" fill="#000"/>
<path d="M267.36 171.05L271.32 175M271.32 171.05L267.36 175" stroke="#000" stroke-width="1.2" fill="none"/>
<path d="M294.08 194.34L298.04 198.29M298.04 194.34L294.08 198.29" stroke="#000" stroke-width="1.2" fill="none"/>
<path d="M320.8 189.52L324.76 193.47M324.76 189.52L320.8 193.47" stroke="#000" stroke-width="1.2" fill="none"/>
<circle cx="349.5" cy="170.97" r="2.08" fill="#000"/>
<circle cx="376.22" cy="183" r="2.08" fill="#000"/>
<path d="M400.86 209.26L405.02 209.26M402.94 207.18L402.94 211.34" stroke="#000" stroke-width="1.2" fill="none"/>
<path d="M427.68 197.59L431.64 201.54M431.64 197.59L427.68 201.54" stroke="#000" stroke-width="1.2" fill="none"/>
<path d="M454.3 214.43L458.46 214.43M456.38 212.35L456.38 216.51" stroke="#000" stroke-width="1.2" fill="none"/>
<path d="M481.02 241.82L485.18 241.82M483.1 239.74L483.1 243.9" stroke="#000" stroke-width="1.2" fill="none"/>
<path d="M507.74 213.3L511.9 213.3M509.82 211.22L509.82 215.38" stroke="#000" stroke-width="1.2" fill="none"/>
<path d="M82.3 159.76L85.3 165.01L79.3 165.01Z" fill="#000"/>
<path d="M109.02 186.66L112.02 191.91L106.02 191.91Z" fill="#000"/>
<path d="M122.38 202.23L125.38 207.48L119.38 207.48Z" fill="#000"/>
<path d="M149.1 204.21L152.1 209.46L146.1 209.46Z" fill="#000"/>
<path d="M162.46 208.53L165.46 213.78L159.46 213.78Z" fill="#000"/>
<path d="M189.18 113.75L192.18 119.01L186.18 119.01Z" fill="#000"/>
<path d="M215.9 124.01L218.9 129.27L212.9 129.27Z" fill="#000"/>
<path d="M242.62 126.49L245.62 131.75L239.62 131.75Z" fill="#000"/>
<path d="M269.34 98.18L272.34 103.44L266.34 103.44Z" fill="#000"/>
<path d="M296.06 73.69L299.06 78.95L293.06 78.95Z" fill="#000"/>
<path d="M322.78 108.8L325.78 114.05L319.78 114.05Z" fill="#000"/>
<path d="M376.22 251.63L379.22 256.89L373.22 256.89Z" fill="#000"/>
<path d="M400.35 181.26L405.53 186.45M405.53 181.26L400.35 186.45M402.94 181L402.94 186.71" stroke="#000" stroke-width="1.2" fill="none"/>
<path d="M429.66 191.33L432.66 196.58L426.66 196.58Z" fill="#000"/>
<path d="M453.79 185.79L458.97 190.98M458.97 185.79L453.79 190.98M456.38 185.53L456.38 191.24" stroke="#000" stroke-width="1.2" fill="none"/>
<path d="M480.51 194.14L485.69 199.33M485.69 194.14L480.51 199.33M483.1 193.88L483.1 199.59" stroke="#000" stroke-width="1.2" fill="none"/>
<path d="M507.23 199.1L512.41 204.28M512.41 199.1L507.23 204.28" stroke="#000" stroke-width="1.2" fill="none"/>
<path d="M79.95 137.77L84.65 142.46M84.65 137.77L79.95 142.46" stroke="#000" stroke-width="1.2" fill="none"/>
<path d="M106.67 195.81L111.37 200.5M111.37 195.81L106.67 200.5" stroke="#000" stroke-width="1.2" fill="none"/>
<path d="M120.03 225.18L124.73 229.87M124.73 225.18L120.03 229.87" stroke="#000" stroke-width="1.2" fill="none"/>
<path d="M146.75 232.26L151.45 236.95M151.45 232.26L146.75 236.95" stroke="#000" stroke-width="1.2" fill="none"/>
<path d="M160.11 233.04L164.81 237.73M164.81 233.04L160.11 237.73" stroke="#000" stroke-width="1.2" fill="none"/>
<path d="M186.83 159.71L191.53 164.4M191.53 159.71L186.83 164.4" stroke="#000" stroke-width="1.2" fill="none"/>
<path d="M213.55 140.17L218.25 144.87M218.25 140.17L213.55 144.87" stroke="#000" stroke-width="1.2" fill="none"/>
<path d="M240.27 174.57L244.97 179.26M244.97 174.57L240.27 179.26" stroke="#000" stroke-width="1.2" fill="none"/>
<path d="M266.99 96.71L271.69 101.41M271.69 96.71L266.99 101.41" stroke="#000" stroke-width="1.2" fill="none"/>
<path d="M293.71 193.96L298.41 198.66M298.41 193.96L293.71 198.66" stroke="#000" stroke-width="1.2" fill="none"/>
<path d="M320.43 147.67L325.13 152.37M325.13 147.67L320.43 152.37" stroke="#000" stroke-width="1.2" fill="none"/>
<path d="M347.15 35.84L351.85 40.54M351.85 35.84L347.15 40.54" stroke="#000" stroke-width="1.2" fill="none"/>
<path d="M373.87 115.47L378.57 120.16M378.57 115.47L373.87 120.16" stroke="#000" stroke-width="1.2" fill="none"/>
<path d="M400.59 181.51L405.29 186.2M405.29 181.51L400.59 186.2" stroke="#000" stroke-width="1.2" fill="none"/>
<path d="M427.31 146.26L432.01 150.95M432.01 146.26L427.31 150.95" stroke="#000" stroke-width="1.2" fill="none"/>
<path d="M454.03 119.5L458.73 124.2M458.73 119.5L454.03 124.2" stroke="#000" stroke-width="1.2" fill="none"/>
<path d="M480.75 175.42L485.45 180.11M485.45 175.42L480.75 180.11" stroke="#000" stroke-width="1.2" fill="none"/>
<path d="M507.47 194.39L512.17 199.08M512.17 194.39L507.47 199.08" stroke="#000" stroke-width="1.2" fill="none"/>
<path d="M79.83 196.74L84.77 196.74M82.3 194.27L82.3 199.21" stroke="#000" stroke-width="1.2" fill="none"/>
<path d="M99.87 249.82L104.81 249.82M102.34 247.35L102.34 252.29" stroke="#000" stroke-width="1.2" fill="none"/>
<path d="M106.55 255.2L111.49 255.2M109.02 252.73L109.02 257.67" stroke="#000" stroke-width="1.2" fill="none"/>
<path d="M113.23 203.81L118.17 203.81M115.7 201.34L115.7 206.28" stroke="#000" stroke-width="1.2" fill="none"/>
<path d="M119.91 255.7L124.85 255.7M122.38 253.23L122.38 258.17" stroke="#000" stroke-width="1.2" fill="none"/>
<path d="M146.63 277.92L151.57 277.92M149.1 275.45L149.1 280.39" stroke="#000" stroke-width="1.2" fill="none"/>
<path d="M159.99 280.82L164.93 280.82M162.46 278.35L162.46 283.29" stroke="#000" stroke-width="1.2" fill="none"/>
<path d="M186.71 278.84L191.65 278.84M189.18 276.37L189.18 281.31" stroke="#000" stroke-width="1.2" fill="none"/>
<path d="M200.07 278.27L205.01 278.27M202.54 275.8L202.54 280.74" stroke="#000" stroke-width="1.2" fill="none"/>
<path d="M240.15 272.47L245.09 272.47M242.62 270L242.62 274.94" stroke="#000" stroke-width="1.2" fill="none"/>
<path d="M266.87 249.96L271.81 249.96M269.34 247.49L269.34 252.43" stroke="#000" stroke-width="1.2" fill="none"/>
<path d="M293.59 150.73L298.53 150.73M296.06 148.26L296.06 153.2" stroke="#000" stroke-width="1.2" fill="none"/>
<path d="M320.31 234.04L325.25 234.04M322.78 231.57L322.78 236.51" stroke="#000" stroke-width="1.2" fill="none"/>
<path d="M347.03 210.61L351.97 210.61M349.5 208.14L349.5 213.08" stroke="#000" stroke-width="1.2" fill="none"/>
<circle cx="402.94" cy="145.07" r="2.47" fill="#000"/>
<circle cx="429.66" cy="176.71" r="2.47" fill="#000"/>
<circle cx="456.38" cy="163.89" r="2.47" fill="#000"/>
<circle cx="483.1" cy="169.41" r="2.47" fill="#000"/>
<circle cx="509.82" cy="171.96" r="2.47" fill="#000"/>
<rect x="80.2" y="187.91" width="4.2" height="4.2" fill="none" stroke="#000" stroke-width="1.05"/>
<rect x="100.24" y="223.66" width="4.2" height="4.2" fill="none" stroke="#000" stroke-width="1.05"/>
<rect x="106.92" y="203.13" width="4.2" height="4.2" fill="none" stroke="#000" stroke-width="1.05"/>
<rect x="113.6" y="141.55" width="4.2" height="4.2" fill="#fff" stroke="#000" stroke-width="1.05"/>
<rect x="120.28" y="217.99" width="4.2" height="4.2" fill="none" stroke="#000" stroke-width="1.05"/>
<rect x="147" y="243.33" width="4.2" height="4.2" fill="none" stroke="#000" stroke-width="1.05"/>
<rect x="160.36" y="249.42" width="4.2" height="4.2" fill="none" stroke="#000" stroke-width="1.05"/>
<rect x="187.08" y="231.02" width="4.2" height="4.2" fill="none" stroke="#000" stroke-width="1.05"/>
<rect x="200.44" y="209.57" width="4.2" height="4.2" fill="none" stroke="#000" stroke-width="1.05"/>
<rect x="240.52" y="198.18" width="4.2" height="4.2" fill="none" stroke="#000" stroke-width="1.05"/>
<rect x="267.24" y="249.84" width="4.2" height="4.2" fill="none" stroke="#000" stroke-width="1.05"/>
<rect x="293.96" y="169.86" width="4.2" height="4.2" fill="none" stroke="#000" stroke-width="1.05"/>
<rect x="320.68" y="198.53" width="4.2" height="4.2" fill="none" stroke="#000" stroke-width="1.05"/>
<rect x="347.4" y="182.67" width="4.2" height="4.2" fill="none" stroke="#000" stroke-width="1.05"/>
<rect x="374.12" y="192.73" width="4.2" height="4.2" fill="none" stroke="#000" stroke-width="1.05"/>
<rect x="400.84" y="225.28" width="4.2" height="4.2" fill="none" stroke="#000" stroke-width="1.05"/>
<rect x="454.28" y="205.68" width="4.2" height="4.2" fill="none" stroke="#000" stroke-width="1.05"/>
<rect x="481" y="214.81" width="4.2" height="4.2" fill="none" stroke="#000" stroke-width="1.05"/>
<rect x="507.72" y="194.64" width="4.2" height="4.2" fill="none" stroke="#000" stroke-width="1.05"/>
<rect x="79.73" y="230.4" width="5.15" height="5.15" fill="#000"/>
<rect x="99.77" y="237.83" width="5.15" height="5.15" fill="#000"/>
<rect x="113.13" y="245.12" width="5.15" height="5.15" fill="#000"/>
<rect x="119.81" y="253.12" width="5.15" height="5.15" fill="#000"/>
<rect x="146.53" y="250.5" width="5.15" height="5.15" fill="#000"/>
<rect x="159.89" y="265.93" width="5.15" height="5.15" fill="#000"/>
<rect x="186.61" y="266.36" width="5.15" height="5.15" fill="#000"/>
<rect x="199.97" y="270.25" width="5.15" height="5.15" fill="#000"/>
<rect x="213.33" y="262.04" width="5.15" height="5.15" fill="#000"/>
<rect x="240.05" y="249.94" width="5.15" height="5.15" fill="#000"/>
<rect x="266.77" y="246.89" width="5.15" height="5.15" fill="#000"/>
<rect x="293.49" y="241.16" width="5.15" height="5.15" fill="#000"/>
<rect x="320.21" y="250.79" width="5.15" height="5.15" fill="#000"/>
<rect x="346.93" y="247.95" width="5.15" height="5.15" fill="#000"/>
<rect x="373.65" y="252.06" width="5.15" height="5.15" fill="#000"/>
<rect x="400.37" y="247.95" width="5.15" height="5.15" fill="#000"/>
<rect x="427.09" y="243.5" width="5.15" height="5.15" fill="#000"/>
<rect x="453.81" y="250.08" width="5.15" height="5.15" fill="#000"/>
<rect x="480.53" y="247.95" width="5.15" height="5.15" fill="#000"/>
<rect x="79.73" y="164.15" width="5.15" height="5.15" fill="#000"/>
<rect x="99.77" y="221.2" width="5.15" height="5.15" fill="#000"/>
<rect x="106.45" y="208.32" width="5.15" height="5.15" fill="#000"/>
<rect x="119.81" y="243.71" width="5.15" height="5.15" fill="#000"/>
<rect x="146.53" y="231.18" width="5.15" height="5.15" fill="#000"/>
<rect x="159.89" y="232.38" width="5.15" height="5.15" fill="#000"/>
<rect x="186.61" y="252.41" width="5.15" height="5.15" fill="#000"/>
<rect x="213.33" y="243.21" width="5.15" height="5.15" fill="#000"/>
<rect x="240.05" y="249.94" width="5.15" height="5.15" fill="#000"/>
<rect x="266.77" y="247.46" width="5.15" height="5.15" fill="#000"/>
<rect x="293.49" y="245.69" width="5.15" height="5.15" fill="#000"/>
<rect x="320.21" y="252.2" width="5.15" height="5.15" fill="#000"/>
<rect x="346.93" y="247.95" width="5.15" height="5.15" fill="#000"/>
<rect x="373.65" y="252.06" width="5.15" height="5.15" fill="#000"/>
<rect x="400.37" y="249.37" width="5.15" height="5.15" fill="#000"/>
<rect x="427.09" y="247.46" width="5.15" height="5.15" fill="#000"/>
<rect x="453.81" y="251.21" width="5.15" height="5.15" fill="#000"/>
<rect x="480.53" y="248.66" width="5.15" height="5.15" fill="#000"/>
<circle cx="109.02" cy="215.85" r="2.1" fill="none" stroke="#000" stroke-width="1.05"/>
<circle cx="115.7" cy="136.57" r="2.1" fill="#fff" stroke="#000" stroke-width="1.05"/>
<circle cx="122.38" cy="227.53" r="2.1" fill="none" stroke="#000" stroke-width="1.05"/>
<circle cx="149.1" cy="226.25" r="2.1" fill="none" stroke="#000" stroke-width="1.05"/>
<circle cx="162.46" cy="234.6" r="2.1" fill="none" stroke="#000" stroke-width="1.05"/>
<circle cx="189.18" cy="259.52" r="2.1" fill="none" stroke="#000" stroke-width="1.05"/>
<circle cx="215.9" cy="259.52" r="2.1" fill="none" stroke="#000" stroke-width="1.05"/>
<circle cx="242.62" cy="255.48" r="2.1" fill="none" stroke="#000" stroke-width="1.05"/>
<circle cx="269.34" cy="250.03" r="2.1" fill="none" stroke="#000" stroke-width="1.05"/>
<circle cx="296.06" cy="248.26" r="2.1" fill="none" stroke="#000" stroke-width="1.05"/>
<circle cx="322.78" cy="254.07" r="2.1" fill="none" stroke="#000" stroke-width="1.05"/>
<circle cx="349.5" cy="245.43" r="2.1" fill="none" stroke="#000" stroke-width="1.05"/>
<circle cx="376.22" cy="254.63" r="2.1" fill="none" stroke="#000" stroke-width="1.05"/>
<circle cx="402.94" cy="232.83" r="2.1" fill="none" stroke="#000" stroke-width="1.05"/>
<circle cx="429.66" cy="246.07" r="2.1" fill="none" stroke="#000" stroke-width="1.05"/>
<circle cx="456.38" cy="229.01" r="2.1" fill="none" stroke="#000" stroke-width="1.05"/>
<circle cx="483.1" cy="227.17" r="2.1" fill="none" stroke="#000" stroke-width="1.05"/>
<circle cx="509.82" cy="227.17" r="2.1" fill="none" stroke="#000" stroke-width="1.05"/>
<path d="M79.95 208.69L84.65 213.38M84.65 208.69L79.95 213.38" stroke="#000" stroke-width="1.2" fill="none"/>
<circle cx="109.02" cy="200.28" r="2.1" fill="none" stroke="#000" stroke-width="1.05"/>
<circle cx="115.7" cy="182.58" r="2.1" fill="#fff" stroke="#000" stroke-width="1.05"/>
<circle cx="122.38" cy="239.2" r="2.1" fill="none" stroke="#000" stroke-width="1.05"/>
<circle cx="149.1" cy="246.28" r="2.1" fill="none" stroke="#000" stroke-width="1.05"/>
<circle cx="162.46" cy="248.41" r="2.1" fill="none" stroke="#000" stroke-width="1.05"/>
<circle cx="189.18" cy="254.99" r="2.1" fill="none" stroke="#000" stroke-width="1.05"/>
<circle cx="215.9" cy="251.24" r="2.1" fill="none" stroke="#000" stroke-width="1.05"/>
<circle cx="242.62" cy="256.19" r="2.1" fill="none" stroke="#000" stroke-width="1.05"/>
<circle cx="269.34" cy="254.99" r="2.1" fill="none" stroke="#000" stroke-width="1.05"/>
<circle cx="296.06" cy="254.78" r="2.1" fill="none" stroke="#000" stroke-width="1.05"/>
<circle cx="322.78" cy="256.19" r="2.1" fill="none" stroke="#000" stroke-width="1.05"/>
<circle cx="349.5" cy="259.02" r="2.1" fill="none" stroke="#000" stroke-width="1.05"/>
<circle cx="376.22" cy="261.5" r="2.1" fill="none" stroke="#000" stroke-width="1.05"/>
<circle cx="402.94" cy="265.39" r="2.1" fill="none" stroke="#000" stroke-width="1.05"/>
<circle cx="429.66" cy="260.79" r="2.1" fill="none" stroke="#000" stroke-width="1.05"/>
<circle cx="456.38" cy="261.85" r="2.1" fill="none" stroke="#000" stroke-width="1.05"/>
<circle cx="483.1" cy="258.74" r="2.1" fill="none" stroke="#000" stroke-width="1.05"/>
<circle cx="509.82" cy="259.73" r="2.1" fill="none" stroke="#000" stroke-width="1.05"/>
<path d="M82.3 214.26L85.02 219.02L79.58 219.02Z" fill="#000"/>
<path d="M109.02 209.84L111.49 214.16L106.55 214.16Z" fill="none" stroke="#000" stroke-width="1.05"/>
<path d="M115.7 187.9L118.17 192.22L113.23 192.22Z" fill="#fff" stroke="#000" stroke-width="1.05"/>
<path d="M122.38 246.64L124.85 250.97L119.91 250.97Z" fill="none" stroke="#000" stroke-width="1.05"/>
<path d="M149.1 247.35L151.57 251.67L146.63 251.67Z" fill="none" stroke="#000" stroke-width="1.05"/>
<path d="M162.46 248.77L164.93 253.09L159.99 253.09Z" fill="none" stroke="#000" stroke-width="1.05"/>
<path d="M189.18 256.55L191.65 260.87L186.71 260.87Z" fill="none" stroke="#000" stroke-width="1.05"/>
<path d="M215.9 247.56L218.37 251.89L213.43 251.89Z" fill="none" stroke="#000" stroke-width="1.05"/>
<path d="M242.62 253.72L245.09 258.04L240.15 258.04Z" fill="none" stroke="#000" stroke-width="1.05"/>
<path d="M269.34 250.89L271.81 255.21L266.87 255.21Z" fill="none" stroke="#000" stroke-width="1.05"/>
<path d="M296.06 257.54L298.53 261.87L293.59 261.87Z" fill="none" stroke="#000" stroke-width="1.05"/>
<path d="M322.78 253.72L325.25 258.04L320.31 258.04Z" fill="none" stroke="#000" stroke-width="1.05"/>
<path d="M349.5 256.55L351.97 260.87L347.03 260.87Z" fill="none" stroke="#000" stroke-width="1.05"/>
<path d="M376.22 252.16L378.69 256.49L373.75 256.49Z" fill="none" stroke="#000" stroke-width="1.05"/>
<path d="M402.94 247.56L405.41 251.89L400.47 251.89Z" fill="none" stroke="#000" stroke-width="1.05"/>
<path d="M429.66 247.56L432.13 251.89L427.19 251.89Z" fill="none" stroke="#000" stroke-width="1.05"/>
<path d="M456.38 251.31L458.85 255.64L453.91 255.64Z" fill="none" stroke="#000" stroke-width="1.05"/>
<path d="M483.1 253.93L485.57 258.26L480.63 258.26Z" fill="none" stroke="#000" stroke-width="1.05"/>
<path d="M509.82 253.93L512.29 258.26L507.35 258.26Z" fill="none" stroke="#000" stroke-width="1.05"/>
<text x="207" y="239.3" font-size="11.5" text-anchor="middle" >1</text>
<line x1="201.5" y1="236.3" x2="160" y2="257.6" stroke="#000" stroke-width="1.2"/>
<path d="M156.8 259.3 L161.6 254.2 L163.2 258.5Z" fill="#000"/>
<text x="108.5" y="277.3" font-size="11.5" text-anchor="middle" >2</text>
<line x1="114" y1="272.9" x2="132" y2="271.6" stroke="#000" stroke-width="1.2"/>
<path d="M136.5 271.2 L131.2 268.9 L131.6 273.9Z" fill="#000"/>
<path d="M63.54 630.7 L84.48 613.66 L91.46 640.68 L98.44 642.76 L105.42 644.84 L133.34 478.11 L147.3 444.63 L175.22 487.67 L189.18 410.12 L203.14 538.4 L231.06 590.58 L258.98 583.72 L286.9 637.57 L314.82 642.76 L342.74 640.68 L370.66 642.76 L398.58 644.84 L426.5 642.76 L454.42 644.84 L482.34 642.76 L510.26 642.76" fill="none" stroke="#000" stroke-width="1.3" stroke-linejoin="round"/>
<path d="M63.54 640.68 L84.48 642.76 L91.46 638.61 L98.44 644.84 L105.42 642.76 L133.34 628.83 L147.3 644.84 L175.22 533.82 L189.18 574.99 L203.14 613.03 L231.06 613.66 L258.98 632.37 L286.9 640.68 L314.82 642.76 L342.74 638.61 L370.66 640.68 L398.58 642.76 L426.5 638.61 L454.42 640.68 L482.34 638.61 L510.26 640.68" fill="none" stroke="#000" stroke-width="1.3" stroke-linejoin="round"/>
<path d="M63.54 595.78 L84.48 634.45 L91.46 628.21 L98.44 636.53 L105.42 625.72 L133.34 632.37 L147.3 616.78 L175.22 619.27 L203.14 616.78 L231.06 629.25 L258.98 636.53 L286.9 632.37 L314.82 636.53 L342.74 628.21 L370.66 634.45 L398.58 638.61 L426.5 636.53 L454.42 634.45 L482.34 615.94 L510.26 615.94" fill="none" stroke="#000" stroke-width="1.3" stroke-linejoin="round"/>
<path d="M63.54 612.41 L84.48 634.45 L91.46 636.53 L98.44 638.61 L105.42 640.68 L133.34 636.53 L147.3 640.68 L175.22 636.53 L203.14 628.21 L231.06 632.37 L258.98 628.21 L286.9 625.51 L314.82 625.51 L342.74 623.84 L370.66 621.14 L398.58 632.37 L426.5 628.21 L454.42 634.45 L482.34 629.46 L510.26 631.33" fill="none" stroke="#000" stroke-width="1.3" stroke-linejoin="round"/>
<path d="M63.54 619.89 L84.48 636.53 L91.46 632.37 L98.44 640.68 L105.42 638.61 L133.34 638.61 L147.3 642.76 L175.22 628.83 L203.14 619.89 L231.06 640.68 L258.98 608.67 L286.9 604.93 L314.82 601.18 L342.74 638.61 L370.66 642.76 L398.58 640.68 L426.5 638.61 L454.42 642.76 L482.34 636.53 L510.26 638.61" fill="none" stroke="#000" stroke-width="1.3" stroke-linejoin="round"/>
<path d="M63.54 630.29 L84.48 638.61 L91.46 642.76 L98.44 636.53 L105.42 640.68 L133.34 642.76 L147.3 644.84 L175.22 634.45 L203.14 587.05 L231.06 638.61 L258.98 642.76 L286.9 640.68 L314.82 644.84 L342.74 636.53 L370.66 638.61 L398.58 625.72 L426.5 640.68 L454.42 642.76 L482.34 640.68 L510.26 638.61" fill="none" stroke="#000" stroke-width="1.3" stroke-linejoin="round"/>
<path d="M63.54 636.53 L84.48 629.46 L91.46 623.01 L98.44 632.37 L105.42 638.61 L133.34 634.45 L147.3 626.96 L175.22 638.61 L203.14 622.6 L231.06 632.37 L258.98 636.53 L286.9 632.37 L314.82 629.46 L342.74 616.98 L370.66 621.35 L398.58 636.53 L426.5 623.22 L454.42 638.61 L482.34 634.45 L510.26 636.53" fill="none" stroke="#000" stroke-width="1.3" stroke-linejoin="round"/>
<path d="M63.54 630.7 L84.48 640.68 L91.46 634.45 L98.44 626.13 L105.42 636.53 L133.34 640.68 L147.3 638.61 L175.22 642.76 L203.14 632.37 L231.06 640.68 L258.98 628.21 L286.9 625.51 L314.82 625.51 L342.74 623.84 L370.66 621.14 L398.58 625.72 L426.5 632.37 L454.42 636.53 L482.34 629.46 L510.26 631.33" fill="none" stroke="#000" stroke-width="1.3" stroke-linejoin="round"/>
<path d="M63.54 642.76 L84.48 644.84 L91.46 622.39 L98.44 642.76 L105.42 644.84 L133.34 638.61 L147.3 645.88 L175.22 644.84 L203.14 642.76 L231.06 643.8 L258.98 645.88 L286.9 643.8 L314.82 645.88 L342.74 642.76 L370.66 644.84 L398.58 645.88 L426.5 640.68 L454.42 644.84 L482.34 645.88 L510.26 644.84" fill="none" stroke="#000" stroke-width="1.3" stroke-linejoin="round"/>
<path d="M63.54 640.68 L84.48 632.37 L91.46 636.53 L98.44 630.29 L105.42 634.45 L133.34 636.53 L147.3 634.45 L175.22 642.76 L203.14 638.61 L231.06 636.53 L258.98 642.76 L286.9 636.53 L314.82 640.68 L342.74 634.45 L370.66 640.68 L398.58 638.61 L426.5 630.29 L454.42 642.76 L482.34 638.61 L510.26 642.76" fill="none" stroke="#000" stroke-width="1.3" stroke-linejoin="round"/>
<path d="M63.54 634.45 L84.48 628.21 L91.46 630.29 L98.44 624.05 L105.42 630.29 L133.34 644.84 L147.3 636.53 L175.22 632.37 L203.14 646.92 L231.06 642.76 L258.98 638.61 L286.9 644.84 L314.82 634.45 L342.74 630.29 L370.66 644.84 L398.58 634.45 L426.5 644.84 L454.42 632.37 L482.34 644.84 L510.26 634.45" fill="none" stroke="#000" stroke-width="1.3" stroke-linejoin="round"/>
<path d="M60.68 630.7L66.4 630.7M63.54 627.84L63.54 633.56" stroke="#000" stroke-width="1.2" fill="none"/>
<path d="M81.62 613.66L87.34 613.66M84.48 610.8L84.48 616.52" stroke="#000" stroke-width="1.2" fill="none"/>
<path d="M88.6 640.68L94.32 640.68M91.46 637.82L91.46 643.54" stroke="#000" stroke-width="1.2" fill="none"/>
<path d="M95.58 642.76L101.3 642.76M98.44 639.9L98.44 645.62" stroke="#000" stroke-width="1.2" fill="none"/>
<path d="M102.56 644.84L108.28 644.84M105.42 641.98L105.42 647.7" stroke="#000" stroke-width="1.2" fill="none"/>
<path d="M130.48 478.11L136.2 478.11M133.34 475.25L133.34 480.97" stroke="#000" stroke-width="1.2" fill="none"/>
<path d="M144.44 444.63L150.16 444.63M147.3 441.77L147.3 447.49" stroke="#000" stroke-width="1.2" fill="none"/>
<path d="M172.36 487.67L178.08 487.67M175.22 484.81L175.22 490.53" stroke="#000" stroke-width="1.2" fill="none"/>
<path d="M186.32 410.12L192.04 410.12M189.18 407.26L189.18 412.98" stroke="#000" stroke-width="1.2" fill="none"/>
<path d="M200.28 538.4L206 538.4M203.14 535.54L203.14 541.26" stroke="#000" stroke-width="1.2" fill="none"/>
<path d="M228.2 590.58L233.92 590.58M231.06 587.72L231.06 593.44" stroke="#000" stroke-width="1.2" fill="none"/>
<path d="M256.12 583.72L261.84 583.72M258.98 580.86L258.98 586.58" stroke="#000" stroke-width="1.2" fill="none"/>
<path d="M284.04 637.57L289.76 637.57M286.9 634.71L286.9 640.43" stroke="#000" stroke-width="1.2" fill="none"/>
<path d="M311.96 642.76L317.68 642.76M314.82 639.9L314.82 645.62" stroke="#000" stroke-width="1.2" fill="none"/>
<path d="M339.88 640.68L345.6 640.68M342.74 637.82L342.74 643.54" stroke="#000" stroke-width="1.2" fill="none"/>
<path d="M367.8 642.76L373.52 642.76M370.66 639.9L370.66 645.62" stroke="#000" stroke-width="1.2" fill="none"/>
<path d="M395.72 644.84L401.44 644.84M398.58 641.98L398.58 647.7" stroke="#000" stroke-width="1.2" fill="none"/>
<path d="M423.64 642.76L429.36 642.76M426.5 639.9L426.5 645.62" stroke="#000" stroke-width="1.2" fill="none"/>
<path d="M451.56 644.84L457.28 644.84M454.42 641.98L454.42 647.7" stroke="#000" stroke-width="1.2" fill="none"/>
<path d="M479.48 642.76L485.2 642.76M482.34 639.9L482.34 645.62" stroke="#000" stroke-width="1.2" fill="none"/>
<path d="M507.4 642.76L513.12 642.76M510.26 639.9L510.26 645.62" stroke="#000" stroke-width="1.2" fill="none"/>
<rect x="60.5" y="637.64" width="6.08" height="6.08" fill="#000"/>
<rect x="81.44" y="639.72" width="6.08" height="6.08" fill="#000"/>
<rect x="88.42" y="635.56" width="6.08" height="6.08" fill="#000"/>
<rect x="95.4" y="641.8" width="6.08" height="6.08" fill="#000"/>
<rect x="102.38" y="639.72" width="6.08" height="6.08" fill="#000"/>
<rect x="130.3" y="625.79" width="6.08" height="6.08" fill="#000"/>
<rect x="144.26" y="641.8" width="6.08" height="6.08" fill="#000"/>
<rect x="172.18" y="530.78" width="6.08" height="6.08" fill="#000"/>
<rect x="186.14" y="571.95" width="6.08" height="6.08" fill="#000"/>
<rect x="200.1" y="609.99" width="6.08" height="6.08" fill="#000"/>
<rect x="228.02" y="610.62" width="6.08" height="6.08" fill="#000"/>
<rect x="255.94" y="629.33" width="6.08" height="6.08" fill="#000"/>
<rect x="283.86" y="637.64" width="6.08" height="6.08" fill="#000"/>
<rect x="311.78" y="639.72" width="6.08" height="6.08" fill="#000"/>
<rect x="339.7" y="635.56" width="6.08" height="6.08" fill="#000"/>
<rect x="367.62" y="637.64" width="6.08" height="6.08" fill="#000"/>
<rect x="395.54" y="639.72" width="6.08" height="6.08" fill="#000"/>
<rect x="423.46" y="635.56" width="6.08" height="6.08" fill="#000"/>
<rect x="451.38" y="637.64" width="6.08" height="6.08" fill="#000"/>
<rect x="479.3" y="635.56" width="6.08" height="6.08" fill="#000"/>
<rect x="507.22" y="637.64" width="6.08" height="6.08" fill="#000"/>
<rect x="60.89" y="593.13" width="5.3" height="5.3" fill="none" stroke="#000" stroke-width="1.05"/>
<rect x="81.83" y="631.79" width="5.3" height="5.3" fill="none" stroke="#000" stroke-width="1.05"/>
<rect x="88.81" y="625.56" width="5.3" height="5.3" fill="none" stroke="#000" stroke-width="1.05"/>
<rect x="95.79" y="633.87" width="5.3" height="5.3" fill="none" stroke="#000" stroke-width="1.05"/>
<rect x="102.77" y="623.06" width="5.3" height="5.3" fill="none" stroke="#000" stroke-width="1.05"/>
<rect x="130.69" y="629.72" width="5.3" height="5.3" fill="none" stroke="#000" stroke-width="1.05"/>
<rect x="144.65" y="614.12" width="5.3" height="5.3" fill="none" stroke="#000" stroke-width="1.05"/>
<rect x="172.57" y="616.62" width="5.3" height="5.3" fill="none" stroke="#000" stroke-width="1.05"/>
<rect x="200.49" y="614.12" width="5.3" height="5.3" fill="none" stroke="#000" stroke-width="1.05"/>
<rect x="228.41" y="626.6" width="5.3" height="5.3" fill="none" stroke="#000" stroke-width="1.05"/>
<rect x="256.33" y="633.87" width="5.3" height="5.3" fill="none" stroke="#000" stroke-width="1.05"/>
<rect x="284.25" y="629.72" width="5.3" height="5.3" fill="none" stroke="#000" stroke-width="1.05"/>
<rect x="312.17" y="633.87" width="5.3" height="5.3" fill="none" stroke="#000" stroke-width="1.05"/>
<rect x="340.09" y="625.56" width="5.3" height="5.3" fill="none" stroke="#000" stroke-width="1.05"/>
<rect x="368.01" y="631.79" width="5.3" height="5.3" fill="none" stroke="#000" stroke-width="1.05"/>
<rect x="395.93" y="635.95" width="5.3" height="5.3" fill="none" stroke="#000" stroke-width="1.05"/>
<rect x="423.85" y="633.87" width="5.3" height="5.3" fill="none" stroke="#000" stroke-width="1.05"/>
<rect x="451.77" y="631.79" width="5.3" height="5.3" fill="none" stroke="#000" stroke-width="1.05"/>
<rect x="479.53" y="613.14" width="5.62" height="5.62" fill="#000"/>
<path d="M510.26 612.82L513.38 618.28L507.14 618.28Z" fill="none" stroke="#000" stroke-width="1.05"/>
<path d="M61.07 609.94L66.01 614.88M66.01 609.94L61.07 614.88" stroke="#000" stroke-width="1.2" fill="none"/>
<path d="M82.01 631.98L86.95 636.92M86.95 631.98L82.01 636.92" stroke="#000" stroke-width="1.2" fill="none"/>
<path d="M88.99 634.06L93.93 639M93.93 634.06L88.99 639" stroke="#000" stroke-width="1.2" fill="none"/>
<path d="M95.97 636.13L100.91 641.08M100.91 636.13L95.97 641.08" stroke="#000" stroke-width="1.2" fill="none"/>
<path d="M102.95 638.21L107.89 643.15M107.89 638.21L102.95 643.15" stroke="#000" stroke-width="1.2" fill="none"/>
<path d="M130.87 634.06L135.81 639M135.81 634.06L130.87 639" stroke="#000" stroke-width="1.2" fill="none"/>
<path d="M144.83 638.21L149.77 643.15M149.77 638.21L144.83 643.15" stroke="#000" stroke-width="1.2" fill="none"/>
<path d="M172.75 634.06L177.69 639M177.69 634.06L172.75 639" stroke="#000" stroke-width="1.2" fill="none"/>
<path d="M200.67 625.74L205.61 630.68M205.61 625.74L200.67 630.68" stroke="#000" stroke-width="1.2" fill="none"/>
<path d="M228.59 629.9L233.53 634.84M233.53 629.9L228.59 634.84" stroke="#000" stroke-width="1.2" fill="none"/>
<path d="M256.51 625.74L261.45 630.68M261.45 625.74L256.51 630.68" stroke="#000" stroke-width="1.2" fill="none"/>
<path d="M284.43 623.04L289.37 627.98M289.37 623.04L284.43 627.98" stroke="#000" stroke-width="1.2" fill="none"/>
<path d="M312.35 623.04L317.29 627.98M317.29 623.04L312.35 627.98" stroke="#000" stroke-width="1.2" fill="none"/>
<path d="M340.27 621.37L345.21 626.31M345.21 621.37L340.27 626.31" stroke="#000" stroke-width="1.2" fill="none"/>
<path d="M368.19 618.67L373.13 623.61M373.13 618.67L368.19 623.61" stroke="#000" stroke-width="1.2" fill="none"/>
<path d="M396.11 629.9L401.05 634.84M401.05 629.9L396.11 634.84" stroke="#000" stroke-width="1.2" fill="none"/>
<path d="M424.03 625.74L428.97 630.68M428.97 625.74L424.03 630.68" stroke="#000" stroke-width="1.2" fill="none"/>
<path d="M451.95 631.98L456.89 636.92M456.89 631.98L451.95 636.92" stroke="#000" stroke-width="1.2" fill="none"/>
<path d="M479.87 626.99L484.81 631.93M484.81 626.99L479.87 631.93" stroke="#000" stroke-width="1.2" fill="none"/>
<path d="M507.79 628.86L512.73 633.8M512.73 628.86L507.79 633.8" stroke="#000" stroke-width="1.2" fill="none"/>
<path d="M63.54 617.29L66.14 621.84L60.94 621.84Z" fill="none" stroke="#000" stroke-width="1.05"/>
<path d="M84.48 633.93L87.08 638.48L81.88 638.48Z" fill="none" stroke="#000" stroke-width="1.05"/>
<path d="M91.46 629.77L94.06 634.32L88.86 634.32Z" fill="none" stroke="#000" stroke-width="1.05"/>
<path d="M98.44 638.08L101.04 642.63L95.84 642.63Z" fill="none" stroke="#000" stroke-width="1.05"/>
<path d="M105.42 636L108.02 640.56L102.82 640.56Z" fill="none" stroke="#000" stroke-width="1.05"/>
<path d="M133.34 636L135.94 640.56L130.74 640.56Z" fill="none" stroke="#000" stroke-width="1.05"/>
<path d="M147.3 640.16L149.9 644.71L144.7 644.71Z" fill="none" stroke="#000" stroke-width="1.05"/>
<path d="M175.22 626.23L177.82 630.78L172.62 630.78Z" fill="none" stroke="#000" stroke-width="1.05"/>
<path d="M203.14 617.29L205.74 621.84L200.54 621.84Z" fill="none" stroke="#000" stroke-width="1.05"/>
<path d="M231.06 638.08L233.66 642.63L228.46 642.63Z" fill="none" stroke="#000" stroke-width="1.05"/>
<rect x="256.77" y="606.46" width="4.42" height="4.42" fill="none" stroke="#000" stroke-width="1.05"/>
<path d="M286.9 602.33L289.5 606.88L284.3 606.88Z" fill="none" stroke="#000" stroke-width="1.05"/>
<path d="M314.82 598.58L317.42 603.13L312.22 603.13Z" fill="none" stroke="#000" stroke-width="1.05"/>
<path d="M342.74 636L345.34 640.56L340.14 640.56Z" fill="none" stroke="#000" stroke-width="1.05"/>
<path d="M370.66 640.16L373.26 644.71L368.06 644.71Z" fill="none" stroke="#000" stroke-width="1.05"/>
<path d="M398.58 638.08L401.18 642.63L395.98 642.63Z" fill="none" stroke="#000" stroke-width="1.05"/>
<path d="M426.5 636L429.1 640.56L423.9 640.56Z" fill="none" stroke="#000" stroke-width="1.05"/>
<path d="M454.42 640.16L457.02 644.71L451.82 644.71Z" fill="none" stroke="#000" stroke-width="1.05"/>
<path d="M482.34 633.93L484.94 638.48L479.74 638.48Z" fill="none" stroke="#000" stroke-width="1.05"/>
<path d="M510.26 636L512.86 640.56L507.66 640.56Z" fill="none" stroke="#000" stroke-width="1.05"/>
<path d="M63.54 627.43L66.4 632.43L60.68 632.43Z" fill="#000"/>
<path d="M84.48 635.75L87.34 640.75L81.62 640.75Z" fill="#000"/>
<path d="M91.46 639.9L94.32 644.91L88.6 644.91Z" fill="#000"/>
<path d="M98.44 633.67L101.3 638.67L95.58 638.67Z" fill="#000"/>
<path d="M105.42 637.82L108.28 642.83L102.56 642.83Z" fill="#000"/>
<path d="M133.34 639.9L136.2 644.91L130.48 644.91Z" fill="#000"/>
<path d="M147.3 641.98L150.16 646.99L144.44 646.99Z" fill="#000"/>
<path d="M175.22 631.59L178.08 636.59L172.36 636.59Z" fill="#000"/>
<path d="M203.14 584.19L206 589.19L200.28 589.19Z" fill="#000"/>
<path d="M231.06 635.75L233.92 640.75L228.2 640.75Z" fill="#000"/>
<path d="M258.98 639.9L261.84 644.91L256.12 644.91Z" fill="#000"/>
<path d="M286.9 637.82L289.76 642.83L284.04 642.83Z" fill="#000"/>
<path d="M314.82 641.98L317.68 646.99L311.96 646.99Z" fill="#000"/>
<path d="M342.74 633.67L345.6 638.67L339.88 638.67Z" fill="#000"/>
<path d="M370.66 635.75L373.52 640.75L367.8 640.75Z" fill="#000"/>
<path d="M398.58 622.86L401.44 627.86L395.72 627.86Z" fill="#000"/>
<path d="M426.5 637.82L429.36 642.83L423.64 642.83Z" fill="#000"/>
<path d="M454.42 639.9L457.28 644.91L451.56 644.91Z" fill="#000"/>
<path d="M482.34 637.82L485.2 642.83L479.48 642.83Z" fill="#000"/>
<path d="M510.26 635.75L513.12 640.75L507.4 640.75Z" fill="#000"/>
<circle cx="63.54" cy="636.53" r="2.21" fill="none" stroke="#000" stroke-width="1.05"/>
<circle cx="84.48" cy="629.46" r="2.21" fill="none" stroke="#000" stroke-width="1.05"/>
<circle cx="91.46" cy="623.01" r="2.21" fill="none" stroke="#000" stroke-width="1.05"/>
<circle cx="98.44" cy="632.37" r="2.21" fill="none" stroke="#000" stroke-width="1.05"/>
<circle cx="105.42" cy="638.61" r="2.21" fill="none" stroke="#000" stroke-width="1.05"/>
<circle cx="133.34" cy="634.45" r="2.21" fill="none" stroke="#000" stroke-width="1.05"/>
<circle cx="147.3" cy="626.96" r="2.21" fill="none" stroke="#000" stroke-width="1.05"/>
<circle cx="175.22" cy="638.61" r="2.21" fill="none" stroke="#000" stroke-width="1.05"/>
<circle cx="203.14" cy="622.6" r="2.21" fill="none" stroke="#000" stroke-width="1.05"/>
<circle cx="231.06" cy="632.37" r="2.21" fill="none" stroke="#000" stroke-width="1.05"/>
<circle cx="258.98" cy="636.53" r="2.21" fill="none" stroke="#000" stroke-width="1.05"/>
<circle cx="286.9" cy="632.37" r="2.21" fill="none" stroke="#000" stroke-width="1.05"/>
<circle cx="314.82" cy="629.46" r="2.21" fill="none" stroke="#000" stroke-width="1.05"/>
<circle cx="342.74" cy="616.98" r="2.21" fill="none" stroke="#000" stroke-width="1.05"/>
<circle cx="370.66" cy="621.35" r="2.21" fill="none" stroke="#000" stroke-width="1.05"/>
<circle cx="398.58" cy="636.53" r="2.21" fill="none" stroke="#000" stroke-width="1.05"/>
<circle cx="426.5" cy="623.22" r="2.21" fill="none" stroke="#000" stroke-width="1.05"/>
<circle cx="454.42" cy="638.61" r="2.21" fill="none" stroke="#000" stroke-width="1.05"/>
<circle cx="482.34" cy="634.45" r="2.21" fill="none" stroke="#000" stroke-width="1.05"/>
<circle cx="510.26" cy="636.53" r="2.21" fill="none" stroke="#000" stroke-width="1.05"/>
<path d="M61.07 628.23L66.01 633.17M66.01 628.23L61.07 633.17M63.54 627.99L63.54 633.42" stroke="#000" stroke-width="1.2" fill="none"/>
<path d="M82.01 638.21L86.95 643.15M86.95 638.21L82.01 643.15M84.48 637.97L84.48 643.4" stroke="#000" stroke-width="1.2" fill="none"/>
<path d="M88.99 631.98L93.93 636.92M93.93 631.98L88.99 636.92M91.46 631.73L91.46 637.16" stroke="#000" stroke-width="1.2" fill="none"/>
<path d="M95.97 623.66L100.91 628.6M100.91 623.66L95.97 628.6M98.44 623.41L98.44 628.85" stroke="#000" stroke-width="1.2" fill="none"/>
<path d="M102.95 634.06L107.89 639M107.89 634.06L102.95 639M105.42 633.81L105.42 639.24" stroke="#000" stroke-width="1.2" fill="none"/>
<path d="M130.87 638.21L135.81 643.15M135.81 638.21L130.87 643.15M133.34 637.97L133.34 643.4" stroke="#000" stroke-width="1.2" fill="none"/>
<path d="M144.83 636.13L149.77 641.08M149.77 636.13L144.83 641.08M147.3 635.89L147.3 641.32" stroke="#000" stroke-width="1.2" fill="none"/>
<path d="M172.75 640.29L177.69 645.23M177.69 640.29L172.75 645.23M175.22 640.05L175.22 645.48" stroke="#000" stroke-width="1.2" fill="none"/>
<path d="M200.67 629.9L205.61 634.84M205.61 629.9L200.67 634.84M203.14 629.65L203.14 635.09" stroke="#000" stroke-width="1.2" fill="none"/>
<path d="M228.59 638.21L233.53 643.15M233.53 638.21L228.59 643.15M231.06 637.97L231.06 643.4" stroke="#000" stroke-width="1.2" fill="none"/>
<path d="M256.51 625.74L261.45 630.68M261.45 625.74L256.51 630.68M258.98 625.49L258.98 630.93" stroke="#000" stroke-width="1.2" fill="none"/>
<path d="M284.43 623.04L289.37 627.98M289.37 623.04L284.43 627.98M286.9 622.79L286.9 628.22" stroke="#000" stroke-width="1.2" fill="none"/>
<path d="M312.35 623.04L317.29 627.98M317.29 623.04L312.35 627.98M314.82 622.79L314.82 628.22" stroke="#000" stroke-width="1.2" fill="none"/>
<path d="M340.27 621.37L345.21 626.31M345.21 621.37L340.27 626.31M342.74 621.13L342.74 626.56" stroke="#000" stroke-width="1.2" fill="none"/>
<path d="M368.19 618.67L373.13 623.61M373.13 618.67L368.19 623.61M370.66 618.42L370.66 623.86" stroke="#000" stroke-width="1.2" fill="none"/>
<path d="M396.11 623.25L401.05 628.19M401.05 623.25L396.11 628.19M398.58 623L398.58 628.43" stroke="#000" stroke-width="1.2" fill="none"/>
<path d="M424.03 629.9L428.97 634.84M428.97 629.9L424.03 634.84M426.5 629.65L426.5 635.09" stroke="#000" stroke-width="1.2" fill="none"/>
<path d="M451.95 634.06L456.89 639M456.89 634.06L451.95 639M454.42 633.81L454.42 639.24" stroke="#000" stroke-width="1.2" fill="none"/>
<path d="M479.87 626.99L484.81 631.93M484.81 626.99L479.87 631.93M482.34 626.74L482.34 632.17" stroke="#000" stroke-width="1.2" fill="none"/>
<path d="M507.79 628.86L512.73 633.8M512.73 628.86L507.79 633.8M510.26 628.61L510.26 634.05" stroke="#000" stroke-width="1.2" fill="none"/>
<circle cx="63.54" cy="642.76" r="2.6" fill="#000"/>
<circle cx="84.48" cy="644.84" r="2.6" fill="#000"/>
<circle cx="91.46" cy="622.39" r="2.6" fill="#000"/>
<circle cx="98.44" cy="642.76" r="2.6" fill="#000"/>
<circle cx="105.42" cy="644.84" r="2.6" fill="#000"/>
<circle cx="133.34" cy="638.61" r="2.6" fill="#000"/>
<circle cx="147.3" cy="645.88" r="2.6" fill="#000"/>
<circle cx="175.22" cy="644.84" r="2.6" fill="#000"/>
<circle cx="203.14" cy="642.76" r="2.6" fill="#000"/>
<circle cx="231.06" cy="643.8" r="2.6" fill="#000"/>
<circle cx="258.98" cy="645.88" r="2.6" fill="#000"/>
<circle cx="286.9" cy="643.8" r="2.6" fill="#000"/>
<circle cx="314.82" cy="645.88" r="2.6" fill="#000"/>
<circle cx="342.74" cy="642.76" r="2.6" fill="#000"/>
<circle cx="370.66" cy="644.84" r="2.6" fill="#000"/>
<circle cx="398.58" cy="645.88" r="2.6" fill="#000"/>
<circle cx="426.5" cy="640.68" r="2.6" fill="#000"/>
<circle cx="454.42" cy="644.84" r="2.6" fill="#000"/>
<circle cx="482.34" cy="645.88" r="2.6" fill="#000"/>
<circle cx="510.26" cy="644.84" r="2.6" fill="#000"/>
<path d="M63.54 637.95L66.27 640.68L63.54 643.41L60.81 640.68Z" fill="#000"/>
<path d="M84.48 629.64L87.21 632.37L84.48 635.1L81.75 632.37Z" fill="#000"/>
<path d="M91.46 633.8L94.19 636.53L91.46 639.26L88.73 636.53Z" fill="#000"/>
<path d="M98.44 627.56L101.17 630.29L98.44 633.02L95.71 630.29Z" fill="#000"/>
<path d="M105.42 631.72L108.15 634.45L105.42 637.18L102.69 634.45Z" fill="#000"/>
<path d="M133.34 633.8L136.07 636.53L133.34 639.26L130.61 636.53Z" fill="#000"/>
<path d="M147.3 631.72L150.03 634.45L147.3 637.18L144.57 634.45Z" fill="#000"/>
<path d="M175.22 640.03L177.95 642.76L175.22 645.49L172.49 642.76Z" fill="#000"/>
<path d="M203.14 635.88L205.87 638.61L203.14 641.34L200.41 638.61Z" fill="#000"/>
<path d="M231.06 633.8L233.79 636.53L231.06 639.26L228.33 636.53Z" fill="#000"/>
<path d="M258.98 640.03L261.71 642.76L258.98 645.49L256.25 642.76Z" fill="#000"/>
<path d="M286.9 633.8L289.63 636.53L286.9 639.26L284.17 636.53Z" fill="#000"/>
<path d="M314.82 637.95L317.55 640.68L314.82 643.41L312.09 640.68Z" fill="#000"/>
<path d="M342.74 631.72L345.47 634.45L342.74 637.18L340.01 634.45Z" fill="#000"/>
<path d="M370.66 637.95L373.39 640.68L370.66 643.41L367.93 640.68Z" fill="#000"/>
<path d="M398.58 635.88L401.31 638.61L398.58 641.34L395.85 638.61Z" fill="#000"/>
<path d="M426.5 627.56L429.23 630.29L426.5 633.02L423.77 630.29Z" fill="#000"/>
<path d="M454.42 640.03L457.15 642.76L454.42 645.49L451.69 642.76Z" fill="#000"/>
<path d="M482.34 635.88L485.07 638.61L482.34 641.34L479.61 638.61Z" fill="#000"/>
<path d="M510.26 640.03L512.99 642.76L510.26 645.49L507.53 642.76Z" fill="#000"/>
<circle cx="63.54" cy="634.45" r="2.6" fill="#000"/>
<circle cx="84.48" cy="628.21" r="2.6" fill="#000"/>
<circle cx="91.46" cy="630.29" r="2.6" fill="#000"/>
<path d="M95.97 621.58L100.91 626.52M100.91 621.58L95.97 626.52M98.44 621.34L98.44 626.77" stroke="#000" stroke-width="1.2" fill="none"/>
<circle cx="105.42" cy="630.29" r="2.6" fill="#000"/>
<circle cx="133.34" cy="644.84" r="2.6" fill="#000"/>
<circle cx="147.3" cy="636.53" r="2.6" fill="#000"/>
<circle cx="175.22" cy="632.37" r="2.6" fill="#000"/>
<circle cx="203.14" cy="646.92" r="2.6" fill="#000"/>
<circle cx="231.06" cy="642.76" r="2.6" fill="#000"/>
<circle cx="258.98" cy="638.61" r="2.6" fill="#000"/>
<circle cx="286.9" cy="644.84" r="2.6" fill="#000"/>
<circle cx="314.82" cy="634.45" r="2.6" fill="#000"/>
<circle cx="342.74" cy="630.29" r="2.6" fill="#000"/>
<circle cx="370.66" cy="644.84" r="2.6" fill="#000"/>
<circle cx="398.58" cy="634.45" r="2.6" fill="#000"/>
<circle cx="426.5" cy="644.84" r="2.6" fill="#000"/>
<circle cx="454.42" cy="632.37" r="2.6" fill="#000"/>
<circle cx="482.34" cy="644.84" r="2.6" fill="#000"/>
<circle cx="510.26" cy="634.45" r="2.6" fill="#000"/>
<path d="M61.2 383.08L65.4 387.27M65.4 383.08L61.2 387.27" stroke="#000" stroke-width="1.2" fill="none"/>
<path d="M61.2 391.18L65.4 395.38M65.4 391.18L61.2 395.38M63.3 390.97L63.3 395.59" stroke="#000" stroke-width="1.2" fill="none"/>
<rect x="61.08" y="396.05" width="4.45" height="4.45" fill="#000"/>
<rect x="61.08" y="398.54" width="4.45" height="4.45" fill="#000"/>
<rect x="61.42" y="405.96" width="3.76" height="3.76" fill="none" stroke="#000" stroke-width="1.05"/>
<path d="M63.3 415.24L65.87 419.75L60.73 419.75Z" fill="#000"/>
<rect x="61.66" y="418.05" width="3.28" height="3.28" fill="#000"/>
<path d="M61.09 427.79L65.51 427.79M63.3 425.58L63.3 430" stroke="#000" stroke-width="1.2" fill="none"/>
<path d="M63.3 441.69L65.62 444.01L63.3 446.33L60.98 444.01Z" fill="none" stroke="#000" stroke-width="1.05"/>
<path d="M63.3 444.91L65.73 449.16L60.87 449.16Z" fill="#000"/>
<circle cx="63.3" cy="451.5" r="2.34" fill="#000"/>
<text x="91.1" y="549.3" font-size="12" text-anchor="middle" >2</text>
<line x1="100" y1="545" x2="112.5" y2="545" stroke="#000" stroke-width="1.2"/>
<path d="M117.5 545 L112 542.6 L112 547.4Z" fill="#000"/>
<text x="144.4" y="549.5" font-size="12" text-anchor="middle" >1</text>
<line x1="148.3" y1="544.8" x2="164.3" y2="549.9" stroke="#000" stroke-width="1.2"/>
<path d="M168.8 551.4 L163.7 547.4 L162.4 552.1Z" fill="#000"/>
</svg></body></html>
